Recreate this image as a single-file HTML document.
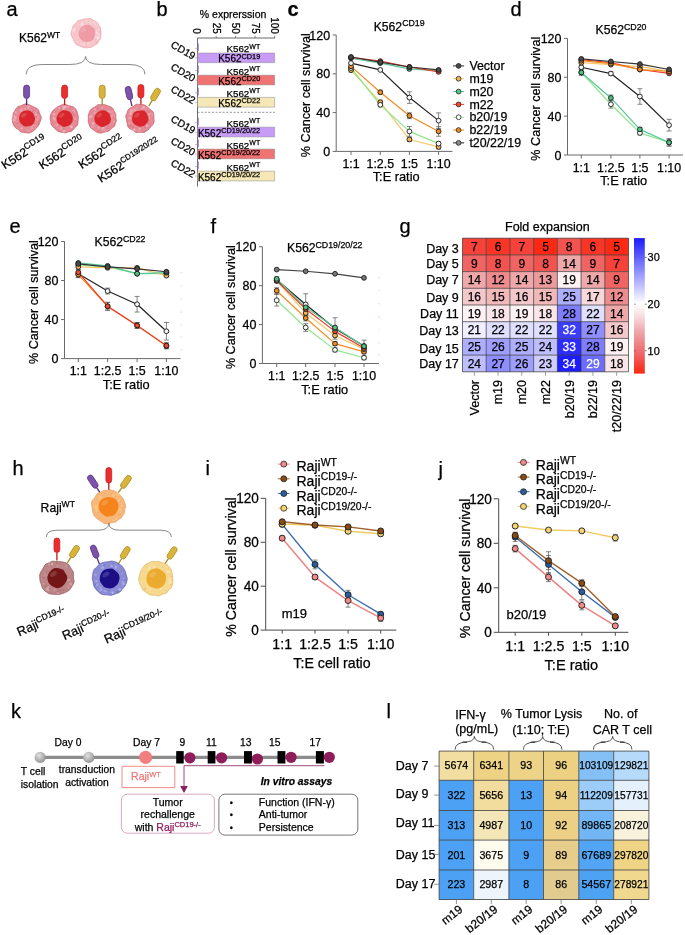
<!DOCTYPE html>
<html><head><meta charset="utf-8"><style>
html,body{margin:0;padding:0;background:#fff;}
body{width:685px;height:935px;overflow:hidden;}
svg{display:block;font-family:"Liberation Sans", sans-serif;filter:blur(0.35px);}
text{stroke-width:0.25px;}
</style></head><body>
<svg width="685" height="935" viewBox="0 0 685 935" stroke-linejoin="round">
<rect width="685" height="935" fill="#fff"/>
<text x="6.50" y="15.80" font-size="20" fill="#000" stroke="#000">a</text>
<text x="156.50" y="15.80" font-size="20" fill="#000" stroke="#000">b</text>
<text x="510.50" y="15.80" font-size="20" fill="#000" stroke="#000">d</text>
<text x="9.50" y="232.80" font-size="20" fill="#000" stroke="#000">e</text>
<text x="210.50" y="232.80" font-size="20" fill="#000" stroke="#000">f</text>
<text x="399.50" y="232.80" font-size="20" fill="#000" stroke="#000">g</text>
<text x="12.50" y="475.00" font-size="20" fill="#000" stroke="#000">h</text>
<text x="205.50" y="475.00" font-size="20" fill="#000" stroke="#000">i</text>
<text x="438.50" y="475.50" font-size="20" fill="#000" stroke="#000">j</text>
<text x="11.00" y="718.30" font-size="20" fill="#000" stroke="#000">k</text>
<text x="386.50" y="717.60" font-size="20" fill="#000" stroke="#000">l</text>
<text x="287.60" y="16.10" font-size="20" fill="#000" stroke="#000" font-weight="bold">c</text>
<text x="19.00" y="42.40" font-size="12" fill="#000" stroke="#000">K562<tspan font-size="8.5" dy="-4.50">WT</tspan></text>
<path d="M100.92,31.98 Q101.24,33.30 100.98,34.63 Q100.73,35.96 100.71,37.38 Q100.70,38.80 99.70,39.83 Q98.71,40.86 98.17,42.15 Q97.62,43.44 96.52,44.28 Q95.42,45.11 94.15,45.62 Q92.89,46.13 91.75,46.94 Q90.61,47.74 89.21,47.64 Q87.82,47.55 86.47,47.84 Q85.13,48.14 83.85,47.62 Q82.57,47.11 81.33,46.64 Q80.09,46.18 78.81,45.68 Q77.53,45.18 76.29,44.46 Q75.05,43.74 74.64,42.32 Q74.23,40.90 73.56,39.73 Q72.90,38.57 72.23,37.33 Q71.57,36.09 71.20,34.70 Q70.83,33.30 71.24,31.91 Q71.64,30.52 72.15,29.23 Q72.66,27.94 72.90,26.48 Q73.14,25.03 74.53,24.34 Q75.92,23.65 76.53,22.28 Q77.14,20.90 78.55,20.53 Q79.95,20.16 81.25,19.77 Q82.54,19.39 83.85,19.16 Q85.17,18.93 86.51,18.79 Q87.86,18.65 89.30,18.53 Q90.73,18.42 91.85,19.36 Q92.97,20.30 94.29,20.77 Q95.61,21.23 96.68,22.14 Q97.74,23.05 98.41,24.28 Q99.09,25.50 99.82,26.68 Q100.55,27.86 100.58,29.26 Q100.60,30.66 100.92,31.98Z" fill="#f6c6cb" stroke="#eaa0a8" stroke-width="0.7"/>
<circle cx="96.26" cy="37.13" r="1.38" fill="#fff" opacity="0.26"/>
<circle cx="81.82" cy="44.27" r="1.15" fill="#fff" opacity="0.22"/>
<circle cx="89.90" cy="21.42" r="0.94" fill="#fff" opacity="0.29"/>
<circle cx="73.64" cy="31.25" r="1.43" fill="#fff" opacity="0.22"/>
<circle cx="96.57" cy="32.04" r="1.12" fill="#fff" opacity="0.34"/>
<circle cx="93.18" cy="42.73" r="0.74" fill="#fff" opacity="0.32"/>
<circle cx="87.59" cy="21.47" r="1.58" fill="#fff" opacity="0.23"/>
<circle cx="82.47" cy="22.04" r="1.28" fill="#fff" opacity="0.26"/>
<circle cx="93.62" cy="22.08" r="1.17" fill="#fff" opacity="0.32"/>
<circle cx="97.98" cy="37.90" r="1.35" fill="#fff" opacity="0.40"/>
<circle cx="91.21" cy="23.60" r="1.09" fill="#fff" opacity="0.32"/>
<circle cx="97.84" cy="34.92" r="0.87" fill="#fff" opacity="0.18"/>
<circle cx="98.26" cy="37.87" r="0.83" fill="#fff" opacity="0.21"/>
<circle cx="76.43" cy="41.53" r="0.78" fill="#fff" opacity="0.26"/>
<circle cx="74.07" cy="29.31" r="1.52" fill="#fff" opacity="0.37"/>
<circle cx="84.50" cy="44.40" r="1.06" fill="#fff" opacity="0.37"/>
<circle cx="96.41" cy="30.60" r="0.88" fill="#fff" opacity="0.21"/>
<circle cx="87.71" cy="44.78" r="1.29" fill="#fff" opacity="0.22"/>
<circle cx="97.79" cy="33.59" r="1.07" fill="#fff" opacity="0.29"/>
<circle cx="98.29" cy="29.72" r="1.22" fill="#fff" opacity="0.30"/>
<circle cx="82.07" cy="24.44" r="1.60" fill="#fff" opacity="0.34"/>
<circle cx="95.48" cy="24.27" r="1.09" fill="#fff" opacity="0.25"/>
<circle cx="96.14" cy="40.63" r="0.76" fill="#fff" opacity="0.17"/>
<circle cx="89.14" cy="43.27" r="1.04" fill="#fff" opacity="0.16"/>
<circle cx="96.77" cy="33.32" r="0.80" fill="#fff" opacity="0.24"/>
<circle cx="99.36" cy="35.38" r="1.31" fill="#fff" opacity="0.19"/>
<circle cx="86.34" cy="44.69" r="0.82" fill="#eaa0a8" opacity="0.35"/>
<circle cx="96.10" cy="42.64" r="1.20" fill="#eaa0a8" opacity="0.35"/>
<circle cx="74.84" cy="35.83" r="0.65" fill="#eaa0a8" opacity="0.35"/>
<circle cx="95.61" cy="40.11" r="0.76" fill="#eaa0a8" opacity="0.35"/>
<circle cx="91.56" cy="23.93" r="0.61" fill="#eaa0a8" opacity="0.35"/>
<circle cx="98.04" cy="29.63" r="0.69" fill="#eaa0a8" opacity="0.35"/>
<circle cx="76.76" cy="30.59" r="0.92" fill="#eaa0a8" opacity="0.35"/>
<circle cx="99.83" cy="31.49" r="1.02" fill="#eaa0a8" opacity="0.35"/>
<circle cx="85.70" cy="44.74" r="0.70" fill="#eaa0a8" opacity="0.35"/>
<circle cx="88.17" cy="21.28" r="1.07" fill="#eaa0a8" opacity="0.35"/>
<path d="M95.22,31.92 Q95.16,33.30 94.91,34.58 Q94.66,35.85 94.28,37.15 Q93.89,38.45 92.96,39.48 Q92.04,40.51 90.78,41.09 Q89.52,41.67 88.16,41.86 Q86.80,42.06 85.44,41.85 Q84.09,41.64 82.89,40.99 Q81.68,40.34 80.90,39.25 Q80.11,38.16 79.41,37.05 Q78.70,35.93 78.56,34.62 Q78.42,33.30 78.76,32.05 Q79.10,30.80 79.67,29.67 Q80.25,28.54 81.08,27.56 Q81.91,26.58 83.08,25.99 Q84.24,25.41 85.52,25.02 Q86.80,24.64 88.17,24.74 Q89.55,24.85 90.66,25.65 Q91.77,26.46 92.87,27.27 Q93.98,28.09 94.63,29.32 Q95.28,30.55 95.22,31.92Z" fill="#ef9aa4"/>
<ellipse cx="83.53" cy="29.90" rx="3.23" ry="1.87" fill="#fff" opacity="0.15" transform="rotate(-35 83.53 29.90)"/>
<path d="M26.20,74.50 Q26.20,64.50 42.20,64.50 L69.60,64.50 Q85.60,64.50 85.60,56.40 Q85.60,64.50 101.60,64.50 L129.00,64.50 Q145.00,64.50 145.00,74.50" stroke="#888" stroke-width="1" fill="none" />
<path d="M41.23,117.15 Q41.45,118.50 40.91,119.79 Q40.37,121.07 39.92,122.28 Q39.47,123.49 38.91,124.63 Q38.34,125.77 37.56,126.77 Q36.78,127.78 35.84,128.64 Q34.90,129.50 33.96,130.43 Q33.01,131.37 31.82,132.04 Q30.64,132.70 29.30,132.91 Q27.95,133.12 26.62,132.87 Q25.29,132.61 23.97,132.49 Q22.65,132.37 21.37,131.98 Q20.08,131.59 19.24,130.48 Q18.40,129.36 17.17,128.79 Q15.94,128.22 14.98,127.25 Q14.03,126.28 13.51,125.03 Q12.99,123.77 12.64,122.47 Q12.29,121.17 12.36,119.84 Q12.43,118.50 12.76,117.24 Q13.09,115.97 13.03,114.60 Q12.98,113.22 13.85,112.19 Q14.73,111.15 15.26,109.90 Q15.79,108.65 16.71,107.64 Q17.64,106.63 18.99,106.28 Q20.34,105.92 21.54,105.45 Q22.75,104.98 23.99,104.35 Q25.23,103.73 26.59,103.89 Q27.94,104.04 29.15,104.67 Q30.36,105.29 31.53,105.78 Q32.69,106.26 33.78,106.91 Q34.86,107.56 36.19,108.05 Q37.52,108.55 38.28,109.67 Q39.04,110.80 39.21,112.17 Q39.37,113.55 40.19,114.68 Q41.01,115.81 41.23,117.15Z" fill="#e48a94" stroke="#c85866" stroke-width="0.7"/>
<circle cx="38.11" cy="117.07" r="1.05" fill="#fbe0e4" opacity="0.29"/>
<circle cx="33.09" cy="125.50" r="1.67" fill="#fbe0e4" opacity="0.31"/>
<circle cx="14.29" cy="116.42" r="1.13" fill="#fbe0e4" opacity="0.37"/>
<circle cx="31.29" cy="109.47" r="0.95" fill="#fbe0e4" opacity="0.22"/>
<circle cx="27.28" cy="129.86" r="0.96" fill="#fbe0e4" opacity="0.25"/>
<circle cx="35.04" cy="127.61" r="1.05" fill="#fbe0e4" opacity="0.26"/>
<circle cx="15.87" cy="112.30" r="1.12" fill="#fbe0e4" opacity="0.38"/>
<circle cx="15.40" cy="118.38" r="1.22" fill="#fbe0e4" opacity="0.15"/>
<circle cx="17.22" cy="122.21" r="0.70" fill="#fbe0e4" opacity="0.35"/>
<circle cx="31.76" cy="128.23" r="1.43" fill="#fbe0e4" opacity="0.29"/>
<circle cx="21.47" cy="128.41" r="1.26" fill="#fbe0e4" opacity="0.35"/>
<circle cx="35.47" cy="125.48" r="0.95" fill="#fbe0e4" opacity="0.22"/>
<circle cx="28.15" cy="107.48" r="1.26" fill="#fbe0e4" opacity="0.34"/>
<circle cx="35.91" cy="112.79" r="1.31" fill="#fbe0e4" opacity="0.28"/>
<circle cx="14.92" cy="117.61" r="1.15" fill="#fbe0e4" opacity="0.28"/>
<circle cx="14.21" cy="120.22" r="1.40" fill="#fbe0e4" opacity="0.37"/>
<circle cx="36.26" cy="114.83" r="1.26" fill="#fbe0e4" opacity="0.39"/>
<circle cx="31.93" cy="110.11" r="0.82" fill="#fbe0e4" opacity="0.26"/>
<circle cx="35.82" cy="123.02" r="0.77" fill="#fbe0e4" opacity="0.32"/>
<circle cx="29.22" cy="106.41" r="0.85" fill="#fbe0e4" opacity="0.33"/>
<circle cx="21.28" cy="110.08" r="1.58" fill="#fbe0e4" opacity="0.39"/>
<circle cx="28.98" cy="130.82" r="1.10" fill="#fbe0e4" opacity="0.27"/>
<circle cx="38.74" cy="117.73" r="0.86" fill="#fbe0e4" opacity="0.26"/>
<circle cx="16.07" cy="117.46" r="0.90" fill="#fbe0e4" opacity="0.23"/>
<circle cx="24.94" cy="109.08" r="1.25" fill="#fbe0e4" opacity="0.26"/>
<circle cx="37.09" cy="119.70" r="1.32" fill="#fbe0e4" opacity="0.28"/>
<circle cx="38.69" cy="123.67" r="1.07" fill="#c85866" opacity="0.35"/>
<circle cx="36.60" cy="116.70" r="0.76" fill="#c85866" opacity="0.35"/>
<circle cx="38.67" cy="121.56" r="0.76" fill="#c85866" opacity="0.35"/>
<circle cx="34.31" cy="126.67" r="1.15" fill="#c85866" opacity="0.35"/>
<circle cx="31.08" cy="108.81" r="0.69" fill="#c85866" opacity="0.35"/>
<circle cx="36.86" cy="112.79" r="1.02" fill="#c85866" opacity="0.35"/>
<circle cx="35.06" cy="123.83" r="1.01" fill="#c85866" opacity="0.35"/>
<circle cx="17.64" cy="123.04" r="1.16" fill="#c85866" opacity="0.35"/>
<circle cx="18.28" cy="109.13" r="0.65" fill="#c85866" opacity="0.35"/>
<circle cx="32.81" cy="110.63" r="1.12" fill="#c85866" opacity="0.35"/>
<path d="M34.79,117.28 Q35.16,118.50 34.91,119.76 Q34.67,121.02 34.16,122.21 Q33.65,123.40 32.82,124.45 Q31.99,125.50 30.70,125.86 Q29.41,126.21 28.15,126.35 Q26.90,126.49 25.61,126.45 Q24.33,126.42 23.24,125.73 Q22.15,125.04 21.30,124.11 Q20.45,123.19 19.86,122.08 Q19.27,120.98 19.12,119.74 Q18.97,118.50 19.11,117.26 Q19.24,116.01 19.78,114.86 Q20.31,113.71 21.21,112.81 Q22.12,111.92 23.19,111.16 Q24.27,110.40 25.58,110.39 Q26.90,110.37 28.18,110.49 Q29.46,110.61 30.54,111.30 Q31.62,112.00 32.57,112.85 Q33.51,113.70 33.96,114.88 Q34.41,116.06 34.79,117.28Z" fill="#d8262c"/>
<ellipse cx="23.70" cy="115.18" rx="3.15" ry="1.83" fill="#fff" opacity="0.15" transform="rotate(-35 23.70 115.18)"/>
<path d="M78.32,117.23 Q78.45,118.50 78.16,119.74 Q77.88,120.98 78.02,122.37 Q78.15,123.75 77.44,124.88 Q76.73,126.01 75.75,126.89 Q74.77,127.77 73.95,128.79 Q73.14,129.80 72.17,130.78 Q71.20,131.76 69.77,131.69 Q68.33,131.62 67.14,132.36 Q65.95,133.09 64.63,132.82 Q63.30,132.54 62.01,132.35 Q60.72,132.15 59.39,131.89 Q58.06,131.64 57.10,130.67 Q56.13,129.71 55.12,128.89 Q54.10,128.07 53.20,127.09 Q52.30,126.12 51.51,125.00 Q50.72,123.88 50.79,122.47 Q50.86,121.07 50.39,119.78 Q49.93,118.50 50.14,117.17 Q50.35,115.84 50.77,114.57 Q51.18,113.30 51.91,112.20 Q52.64,111.10 53.45,110.09 Q54.27,109.08 55.34,108.38 Q56.42,107.67 57.46,106.97 Q58.50,106.26 59.69,105.84 Q60.88,105.43 62.07,104.72 Q63.26,104.02 64.57,104.36 Q65.88,104.71 67.12,105.00 Q68.36,105.30 69.51,105.81 Q70.67,106.32 72.06,106.55 Q73.45,106.78 74.47,107.68 Q75.48,108.58 76.18,109.74 Q76.88,110.90 77.22,112.19 Q77.55,113.48 77.88,114.72 Q78.20,115.96 78.32,117.23Z" fill="#e48a94" stroke="#c85866" stroke-width="0.7"/>
<circle cx="61.67" cy="129.07" r="0.86" fill="#fbe0e4" opacity="0.26"/>
<circle cx="63.55" cy="131.03" r="1.67" fill="#fbe0e4" opacity="0.29"/>
<circle cx="65.04" cy="131.08" r="1.01" fill="#fbe0e4" opacity="0.24"/>
<circle cx="75.32" cy="118.57" r="1.17" fill="#fbe0e4" opacity="0.28"/>
<circle cx="67.97" cy="129.09" r="0.70" fill="#fbe0e4" opacity="0.22"/>
<circle cx="73.71" cy="124.26" r="0.74" fill="#fbe0e4" opacity="0.16"/>
<circle cx="61.18" cy="128.16" r="1.29" fill="#fbe0e4" opacity="0.28"/>
<circle cx="64.64" cy="106.90" r="1.42" fill="#fbe0e4" opacity="0.37"/>
<circle cx="56.50" cy="125.25" r="1.68" fill="#fbe0e4" opacity="0.19"/>
<circle cx="62.73" cy="107.09" r="0.74" fill="#fbe0e4" opacity="0.36"/>
<circle cx="73.56" cy="111.27" r="1.43" fill="#fbe0e4" opacity="0.35"/>
<circle cx="71.76" cy="127.08" r="1.20" fill="#fbe0e4" opacity="0.36"/>
<circle cx="68.69" cy="107.07" r="1.28" fill="#fbe0e4" opacity="0.37"/>
<circle cx="59.80" cy="107.81" r="0.93" fill="#fbe0e4" opacity="0.16"/>
<circle cx="71.74" cy="126.41" r="0.80" fill="#fbe0e4" opacity="0.36"/>
<circle cx="53.86" cy="114.36" r="1.33" fill="#fbe0e4" opacity="0.32"/>
<circle cx="55.11" cy="119.14" r="1.50" fill="#fbe0e4" opacity="0.34"/>
<circle cx="53.39" cy="118.29" r="1.36" fill="#fbe0e4" opacity="0.17"/>
<circle cx="63.75" cy="108.23" r="0.77" fill="#fbe0e4" opacity="0.22"/>
<circle cx="63.28" cy="108.43" r="1.44" fill="#fbe0e4" opacity="0.39"/>
<circle cx="53.88" cy="118.91" r="1.18" fill="#fbe0e4" opacity="0.32"/>
<circle cx="65.82" cy="107.09" r="1.34" fill="#fbe0e4" opacity="0.17"/>
<circle cx="70.80" cy="126.74" r="1.44" fill="#fbe0e4" opacity="0.23"/>
<circle cx="55.91" cy="114.56" r="0.76" fill="#fbe0e4" opacity="0.22"/>
<circle cx="59.09" cy="108.16" r="1.38" fill="#fbe0e4" opacity="0.22"/>
<circle cx="53.67" cy="117.36" r="1.17" fill="#fbe0e4" opacity="0.18"/>
<circle cx="72.82" cy="112.01" r="1.19" fill="#c85866" opacity="0.35"/>
<circle cx="73.68" cy="114.66" r="0.88" fill="#c85866" opacity="0.35"/>
<circle cx="70.17" cy="106.65" r="0.87" fill="#c85866" opacity="0.35"/>
<circle cx="63.37" cy="128.94" r="1.17" fill="#c85866" opacity="0.35"/>
<circle cx="67.48" cy="129.92" r="0.69" fill="#c85866" opacity="0.35"/>
<circle cx="51.71" cy="116.54" r="0.68" fill="#c85866" opacity="0.35"/>
<circle cx="69.52" cy="108.07" r="1.13" fill="#c85866" opacity="0.35"/>
<circle cx="61.54" cy="108.37" r="1.14" fill="#c85866" opacity="0.35"/>
<circle cx="54.75" cy="119.36" r="0.60" fill="#c85866" opacity="0.35"/>
<circle cx="53.28" cy="119.09" r="0.78" fill="#c85866" opacity="0.35"/>
<path d="M72.67,117.28 Q72.90,118.50 72.79,119.76 Q72.67,121.02 72.08,122.16 Q71.49,123.29 70.72,124.37 Q69.94,125.44 68.64,125.72 Q67.34,126.00 66.12,126.50 Q64.90,127.01 63.57,126.83 Q62.25,126.66 61.23,125.81 Q60.21,124.96 59.05,124.27 Q57.90,123.59 57.37,122.35 Q56.84,121.12 56.55,119.81 Q56.27,118.50 56.72,117.24 Q57.17,115.99 57.72,114.84 Q58.27,113.68 59.17,112.77 Q60.07,111.86 61.14,111.03 Q62.21,110.21 63.55,110.17 Q64.90,110.13 66.16,110.42 Q67.43,110.72 68.59,111.27 Q69.74,111.83 70.60,112.78 Q71.46,113.73 71.95,114.89 Q72.44,116.05 72.67,117.28Z" fill="#d8262c"/>
<ellipse cx="61.69" cy="115.18" rx="3.15" ry="1.83" fill="#fff" opacity="0.15" transform="rotate(-35 61.69 115.18)"/>
<path d="M115.86,117.22 Q115.83,118.50 116.23,119.85 Q116.63,121.20 115.89,122.36 Q115.16,123.52 114.98,124.91 Q114.80,126.30 113.61,127.06 Q112.43,127.83 111.49,128.70 Q110.56,129.57 109.55,130.40 Q108.54,131.23 107.25,131.48 Q105.97,131.73 104.73,132.10 Q103.49,132.46 102.16,132.87 Q100.83,133.28 99.50,132.98 Q98.16,132.68 96.92,132.15 Q95.67,131.61 94.60,130.79 Q93.53,129.98 92.40,129.22 Q91.27,128.46 90.43,127.38 Q89.59,126.30 89.24,124.98 Q88.89,123.65 88.41,122.41 Q87.94,121.17 88.29,119.83 Q88.64,118.50 88.28,117.17 Q87.92,115.83 88.47,114.61 Q89.02,113.40 89.42,112.12 Q89.82,110.84 90.69,109.82 Q91.55,108.80 92.69,108.10 Q93.83,107.41 94.99,106.89 Q96.16,106.36 97.15,105.31 Q98.15,104.26 99.54,104.57 Q100.94,104.89 102.22,104.64 Q103.51,104.40 104.77,104.73 Q106.03,105.06 107.21,105.55 Q108.40,106.05 109.68,106.47 Q110.96,106.90 112.08,107.69 Q113.19,108.48 113.59,109.84 Q113.98,111.20 114.82,112.25 Q115.65,113.29 115.76,114.62 Q115.88,115.94 115.86,117.22Z" fill="#e48a94" stroke="#c85866" stroke-width="0.7"/>
<circle cx="92.13" cy="114.71" r="0.87" fill="#fbe0e4" opacity="0.19"/>
<circle cx="105.44" cy="130.47" r="1.20" fill="#fbe0e4" opacity="0.21"/>
<circle cx="112.75" cy="111.45" r="1.15" fill="#fbe0e4" opacity="0.18"/>
<circle cx="105.67" cy="127.66" r="1.04" fill="#fbe0e4" opacity="0.17"/>
<circle cx="102.90" cy="128.80" r="1.27" fill="#fbe0e4" opacity="0.37"/>
<circle cx="102.18" cy="107.68" r="1.11" fill="#fbe0e4" opacity="0.28"/>
<circle cx="94.63" cy="125.89" r="0.76" fill="#fbe0e4" opacity="0.22"/>
<circle cx="111.90" cy="116.50" r="1.20" fill="#fbe0e4" opacity="0.31"/>
<circle cx="108.84" cy="110.77" r="0.97" fill="#fbe0e4" opacity="0.21"/>
<circle cx="93.37" cy="124.94" r="1.65" fill="#fbe0e4" opacity="0.36"/>
<circle cx="108.88" cy="111.64" r="0.73" fill="#fbe0e4" opacity="0.33"/>
<circle cx="110.93" cy="111.79" r="1.29" fill="#fbe0e4" opacity="0.15"/>
<circle cx="92.52" cy="126.35" r="1.53" fill="#fbe0e4" opacity="0.36"/>
<circle cx="112.34" cy="116.71" r="0.81" fill="#fbe0e4" opacity="0.19"/>
<circle cx="90.63" cy="116.86" r="1.64" fill="#fbe0e4" opacity="0.33"/>
<circle cx="95.02" cy="108.95" r="1.16" fill="#fbe0e4" opacity="0.29"/>
<circle cx="113.83" cy="121.45" r="0.93" fill="#fbe0e4" opacity="0.38"/>
<circle cx="95.81" cy="110.21" r="0.83" fill="#fbe0e4" opacity="0.21"/>
<circle cx="94.51" cy="109.63" r="0.81" fill="#fbe0e4" opacity="0.17"/>
<circle cx="90.97" cy="116.76" r="1.09" fill="#fbe0e4" opacity="0.21"/>
<circle cx="94.52" cy="112.85" r="1.00" fill="#fbe0e4" opacity="0.27"/>
<circle cx="113.38" cy="115.55" r="1.58" fill="#fbe0e4" opacity="0.27"/>
<circle cx="103.18" cy="128.74" r="1.66" fill="#fbe0e4" opacity="0.33"/>
<circle cx="98.82" cy="127.45" r="1.20" fill="#fbe0e4" opacity="0.32"/>
<circle cx="93.15" cy="123.47" r="1.37" fill="#fbe0e4" opacity="0.38"/>
<circle cx="103.60" cy="128.01" r="1.04" fill="#fbe0e4" opacity="0.26"/>
<circle cx="97.89" cy="108.95" r="1.08" fill="#c85866" opacity="0.35"/>
<circle cx="101.41" cy="107.01" r="0.72" fill="#c85866" opacity="0.35"/>
<circle cx="112.87" cy="116.46" r="1.09" fill="#c85866" opacity="0.35"/>
<circle cx="103.47" cy="128.98" r="1.06" fill="#c85866" opacity="0.35"/>
<circle cx="98.57" cy="131.02" r="0.90" fill="#c85866" opacity="0.35"/>
<circle cx="106.25" cy="128.25" r="0.85" fill="#c85866" opacity="0.35"/>
<circle cx="95.59" cy="107.28" r="0.69" fill="#c85866" opacity="0.35"/>
<circle cx="93.95" cy="125.03" r="1.18" fill="#c85866" opacity="0.35"/>
<circle cx="108.47" cy="126.26" r="0.64" fill="#c85866" opacity="0.35"/>
<circle cx="92.13" cy="126.48" r="1.13" fill="#c85866" opacity="0.35"/>
<path d="M110.58,117.26 Q110.99,118.50 110.89,119.85 Q110.79,121.19 110.15,122.39 Q109.50,123.59 108.40,124.34 Q107.30,125.10 106.14,125.62 Q104.98,126.15 103.74,126.65 Q102.50,127.16 101.19,126.87 Q99.87,126.59 98.86,125.74 Q97.85,124.90 96.76,124.18 Q95.67,123.46 95.19,122.25 Q94.70,121.03 94.50,119.77 Q94.30,118.50 94.52,117.24 Q94.74,115.98 95.37,114.88 Q96.01,113.78 96.94,112.95 Q97.86,112.12 98.93,111.45 Q99.99,110.78 101.25,110.55 Q102.50,110.32 103.84,110.28 Q105.18,110.25 106.19,111.14 Q107.20,112.04 108.36,112.72 Q109.53,113.39 109.84,114.70 Q110.16,116.01 110.58,117.26Z" fill="#d8262c"/>
<ellipse cx="99.30" cy="115.18" rx="3.15" ry="1.83" fill="#fff" opacity="0.15" transform="rotate(-35 99.30 115.18)"/>
<path d="M153.97,117.18 Q153.90,118.50 154.10,119.85 Q154.31,121.19 153.94,122.49 Q153.57,123.79 152.73,124.86 Q151.89,125.92 150.91,126.78 Q149.92,127.64 149.18,128.72 Q148.43,129.80 147.29,130.43 Q146.15,131.05 145.05,131.89 Q143.95,132.73 142.56,132.47 Q141.17,132.21 139.89,132.33 Q138.61,132.45 137.23,132.57 Q135.86,132.70 134.86,131.66 Q133.87,130.61 132.64,130.17 Q131.42,129.73 130.25,129.05 Q129.08,128.36 128.29,127.27 Q127.50,126.17 127.39,124.78 Q127.27,123.39 126.93,122.19 Q126.59,120.99 126.46,119.74 Q126.32,118.50 125.84,117.14 Q125.36,115.78 126.17,114.64 Q126.98,113.50 127.25,112.17 Q127.53,110.84 128.26,109.70 Q128.99,108.55 130.23,107.95 Q131.48,107.35 132.60,106.71 Q133.71,106.08 134.78,105.15 Q135.84,104.22 137.21,104.21 Q138.57,104.20 139.88,104.45 Q141.18,104.70 142.52,104.62 Q143.87,104.55 144.99,105.28 Q146.11,106.02 147.19,106.72 Q148.27,107.42 149.07,108.42 Q149.87,109.41 151.08,110.12 Q152.28,110.83 152.99,112.00 Q153.69,113.16 153.87,114.51 Q154.05,115.86 153.97,117.18Z" fill="#e48a94" stroke="#c85866" stroke-width="0.7"/>
<circle cx="148.88" cy="115.16" r="0.93" fill="#fbe0e4" opacity="0.27"/>
<circle cx="151.99" cy="115.13" r="1.09" fill="#fbe0e4" opacity="0.21"/>
<circle cx="129.88" cy="123.22" r="1.63" fill="#fbe0e4" opacity="0.20"/>
<circle cx="143.75" cy="107.28" r="1.52" fill="#fbe0e4" opacity="0.34"/>
<circle cx="131.66" cy="111.92" r="1.02" fill="#fbe0e4" opacity="0.24"/>
<circle cx="141.86" cy="108.95" r="0.90" fill="#fbe0e4" opacity="0.34"/>
<circle cx="140.06" cy="128.21" r="0.73" fill="#fbe0e4" opacity="0.29"/>
<circle cx="134.11" cy="129.73" r="1.58" fill="#fbe0e4" opacity="0.40"/>
<circle cx="138.99" cy="128.23" r="0.80" fill="#fbe0e4" opacity="0.27"/>
<circle cx="137.17" cy="107.92" r="0.93" fill="#fbe0e4" opacity="0.25"/>
<circle cx="131.42" cy="110.50" r="1.45" fill="#fbe0e4" opacity="0.36"/>
<circle cx="134.84" cy="110.01" r="1.54" fill="#fbe0e4" opacity="0.22"/>
<circle cx="130.14" cy="114.14" r="1.44" fill="#fbe0e4" opacity="0.20"/>
<circle cx="140.07" cy="128.78" r="0.85" fill="#fbe0e4" opacity="0.37"/>
<circle cx="130.61" cy="113.52" r="1.10" fill="#fbe0e4" opacity="0.40"/>
<circle cx="129.67" cy="118.03" r="1.51" fill="#fbe0e4" opacity="0.31"/>
<circle cx="149.71" cy="117.94" r="1.17" fill="#fbe0e4" opacity="0.35"/>
<circle cx="146.59" cy="108.03" r="0.74" fill="#fbe0e4" opacity="0.22"/>
<circle cx="147.30" cy="125.38" r="1.67" fill="#fbe0e4" opacity="0.30"/>
<circle cx="149.58" cy="113.96" r="1.57" fill="#fbe0e4" opacity="0.26"/>
<circle cx="139.15" cy="130.47" r="1.65" fill="#fbe0e4" opacity="0.18"/>
<circle cx="130.45" cy="111.98" r="0.92" fill="#fbe0e4" opacity="0.24"/>
<circle cx="146.30" cy="126.38" r="0.95" fill="#fbe0e4" opacity="0.30"/>
<circle cx="134.02" cy="110.23" r="0.71" fill="#fbe0e4" opacity="0.23"/>
<circle cx="135.51" cy="109.41" r="1.01" fill="#fbe0e4" opacity="0.20"/>
<circle cx="143.06" cy="107.70" r="0.76" fill="#fbe0e4" opacity="0.18"/>
<circle cx="130.67" cy="125.64" r="0.98" fill="#c85866" opacity="0.35"/>
<circle cx="148.60" cy="124.11" r="1.02" fill="#c85866" opacity="0.35"/>
<circle cx="130.82" cy="124.28" r="0.78" fill="#c85866" opacity="0.35"/>
<circle cx="150.30" cy="115.35" r="0.94" fill="#c85866" opacity="0.35"/>
<circle cx="132.90" cy="127.27" r="1.12" fill="#c85866" opacity="0.35"/>
<circle cx="150.93" cy="118.27" r="0.72" fill="#c85866" opacity="0.35"/>
<circle cx="138.46" cy="108.11" r="0.60" fill="#c85866" opacity="0.35"/>
<circle cx="149.06" cy="111.99" r="1.09" fill="#c85866" opacity="0.35"/>
<circle cx="129.26" cy="125.61" r="0.88" fill="#c85866" opacity="0.35"/>
<circle cx="145.04" cy="126.90" r="0.93" fill="#c85866" opacity="0.35"/>
<path d="M148.18,117.27 Q148.62,118.50 148.52,119.83 Q148.42,121.17 147.53,122.17 Q146.64,123.18 145.89,124.24 Q145.14,125.30 143.93,125.79 Q142.73,126.29 141.47,126.55 Q140.20,126.80 138.96,126.46 Q137.73,126.11 136.58,125.59 Q135.43,125.07 134.45,124.23 Q133.47,123.39 132.72,122.28 Q131.97,121.17 132.10,119.84 Q132.22,118.50 132.27,117.22 Q132.31,115.94 132.80,114.71 Q133.28,113.47 134.19,112.47 Q135.09,111.47 136.40,111.16 Q137.71,110.85 138.96,110.68 Q140.20,110.51 141.54,110.38 Q142.88,110.26 144.09,110.86 Q145.31,111.47 146.11,112.55 Q146.90,113.63 147.32,114.84 Q147.74,116.05 148.18,117.27Z" fill="#d8262c"/>
<ellipse cx="137.00" cy="115.18" rx="3.15" ry="1.83" fill="#fff" opacity="0.15" transform="rotate(-35 137.00 115.18)"/>
<line x1="26.60" y1="105.00" x2="26.60" y2="98.50" stroke="#4f2f80" stroke-width="1.3" />
<rect x="19.85" y="88.75" width="13.50" height="6.00" rx="3.00" fill="#7d52ad" stroke="#4f2f80" stroke-width="0.7" transform="rotate(-90.0 26.60 91.75)"/>
<line x1="64.60" y1="105.00" x2="64.60" y2="98.50" stroke="#c01818" stroke-width="1.3" />
<rect x="57.85" y="88.75" width="13.50" height="6.00" rx="3.00" fill="#ec2d2d" stroke="#c01818" stroke-width="0.7" transform="rotate(-90.0 64.60 91.75)"/>
<line x1="102.20" y1="105.00" x2="102.20" y2="98.50" stroke="#a88a20" stroke-width="1.3" />
<rect x="95.45" y="88.75" width="13.50" height="6.00" rx="3.00" fill="#d9b43a" stroke="#a88a20" stroke-width="0.7" transform="rotate(-90.0 102.20 91.75)"/>
<line x1="131.90" y1="106.00" x2="130.46" y2="99.66" stroke="#4f2f80" stroke-width="1.3" />
<rect x="122.21" y="90.08" width="13.50" height="6.00" rx="3.00" fill="#7d52ad" stroke="#4f2f80" stroke-width="0.7" transform="rotate(-102.8 128.96 93.08)"/>
<line x1="140.90" y1="104.50" x2="140.90" y2="98.00" stroke="#c01818" stroke-width="1.3" />
<rect x="134.15" y="88.25" width="13.50" height="6.00" rx="3.00" fill="#ec2d2d" stroke="#c01818" stroke-width="0.7" transform="rotate(-90.0 140.90 91.25)"/>
<line x1="148.90" y1="106.00" x2="152.16" y2="100.37" stroke="#a88a20" stroke-width="1.3" />
<rect x="148.79" y="91.53" width="13.50" height="6.00" rx="3.00" fill="#d9b43a" stroke="#a88a20" stroke-width="0.7" transform="rotate(-59.9 155.54 94.53)"/>
<text x="4.80" y="169.50" font-size="12.2" fill="#000" stroke="#000" transform="rotate(-32.5 4.80 169.50)">K562<tspan font-size="8.8" dy="-5.00">CD19</tspan></text>
<text x="42.30" y="169.70" font-size="12.2" fill="#000" stroke="#000" transform="rotate(-32.5 42.30 169.70)">K562<tspan font-size="8.8" dy="-5.00">CD20</tspan></text>
<text x="81.80" y="169.20" font-size="12.2" fill="#000" stroke="#000" transform="rotate(-32.5 81.80 169.20)">K562<tspan font-size="8.8" dy="-5.00">CD22</tspan></text>
<text x="100.90" y="183.00" font-size="12.2" fill="#000" stroke="#000" transform="rotate(-32.5 100.90 183.00)">K562<tspan font-size="8.0" dy="-5.00">CD19/20/22</tspan></text>
<text x="199.80" y="17.80" font-size="10.5" fill="#000" stroke="#000">% exprerssion</text>
<line x1="197.50" y1="38.00" x2="275.10" y2="38.00" stroke="#6a6a6a" stroke-width="1" />
<line x1="197.50" y1="38.00" x2="197.50" y2="186.50" stroke="#6a6a6a" stroke-width="1" />
<text x="193.20" y="33.90" font-size="10" text-anchor="end" fill="#000" stroke="#000" transform="rotate(90 193.20 33.90)">0</text>
<line x1="216.17" y1="35.80" x2="216.17" y2="38.00" stroke="#6a6a6a" stroke-width="0.8" />
<text x="212.67" y="33.90" font-size="10" text-anchor="end" fill="#000" stroke="#000" transform="rotate(90 212.67 33.90)">25</text>
<line x1="235.65" y1="35.80" x2="235.65" y2="38.00" stroke="#6a6a6a" stroke-width="0.8" />
<text x="232.15" y="33.90" font-size="10" text-anchor="end" fill="#000" stroke="#000" transform="rotate(90 232.15 33.90)">50</text>
<line x1="255.12" y1="35.80" x2="255.12" y2="38.00" stroke="#6a6a6a" stroke-width="0.8" />
<text x="251.62" y="33.90" font-size="10" text-anchor="end" fill="#000" stroke="#000" transform="rotate(90 251.62 33.90)">75</text>
<line x1="274.60" y1="35.80" x2="274.60" y2="38.00" stroke="#6a6a6a" stroke-width="0.8" />
<text x="271.10" y="33.90" font-size="10" text-anchor="end" fill="#000" stroke="#000" transform="rotate(90 271.10 33.90)">100</text>
<rect x="197.50" y="53.00" width="77.10" height="9.70" fill="#c79cf7" stroke="#888" stroke-width="0.5" />
<rect x="197.50" y="43.50" width="1.20" height="7.50" fill="#8a6ab5" />
<line x1="195.00" y1="48.40" x2="197.50" y2="48.40" stroke="#999" stroke-width="0.6" />
<line x1="195.00" y1="57.90" x2="197.50" y2="57.90" stroke="#999" stroke-width="0.6" />
<text x="260.20" y="52.40" font-size="9.8" text-anchor="end" fill="#000" stroke="#000">K562<tspan font-size="7" dy="-3.40">WT</tspan></text>
<text x="260.2" y="62.40" font-size="10" text-anchor="end" fill="#000" stroke="#000">K562<tspan font-size="7.3" dy="-3.4">CD19</tspan></text>
<text x="170.00" y="46.80" font-size="10.3" fill="#000" stroke="#000" transform="rotate(30 170.00 46.80)">CD19</text>
<rect x="197.50" y="75.20" width="77.10" height="9.70" fill="#ef7373" stroke="#888" stroke-width="0.5" />
<rect x="197.50" y="65.70" width="1.20" height="7.50" fill="#8a6ab5" />
<line x1="195.00" y1="70.60" x2="197.50" y2="70.60" stroke="#999" stroke-width="0.6" />
<line x1="195.00" y1="80.10" x2="197.50" y2="80.10" stroke="#999" stroke-width="0.6" />
<text x="260.20" y="74.60" font-size="9.8" text-anchor="end" fill="#000" stroke="#000">K562<tspan font-size="7" dy="-3.40">WT</tspan></text>
<text x="260.2" y="84.60" font-size="10" text-anchor="end" fill="#000" stroke="#000">K562<tspan font-size="7.3" dy="-3.4">CD20</tspan></text>
<text x="170.00" y="69.00" font-size="10.3" fill="#000" stroke="#000" transform="rotate(30 170.00 69.00)">CD20</text>
<rect x="197.50" y="97.40" width="77.10" height="9.70" fill="#f5e8b6" stroke="#888" stroke-width="0.5" />
<rect x="197.50" y="87.90" width="1.20" height="7.50" fill="#8a6ab5" />
<line x1="195.00" y1="92.80" x2="197.50" y2="92.80" stroke="#999" stroke-width="0.6" />
<line x1="195.00" y1="102.30" x2="197.50" y2="102.30" stroke="#999" stroke-width="0.6" />
<text x="260.20" y="96.80" font-size="9.8" text-anchor="end" fill="#000" stroke="#000">K562<tspan font-size="7" dy="-3.40">WT</tspan></text>
<text x="260.2" y="106.80" font-size="10" text-anchor="end" fill="#000" stroke="#000">K562<tspan font-size="7.3" dy="-3.4">CD22</tspan></text>
<text x="170.00" y="91.20" font-size="10.3" fill="#000" stroke="#000" transform="rotate(30 170.00 91.20)">CD22</text>
<rect x="197.50" y="127.20" width="77.10" height="9.70" fill="#c79cf7" stroke="#888" stroke-width="0.5" />
<rect x="197.50" y="117.70" width="1.20" height="7.50" fill="#8a6ab5" />
<line x1="195.00" y1="122.60" x2="197.50" y2="122.60" stroke="#999" stroke-width="0.6" />
<line x1="195.00" y1="132.10" x2="197.50" y2="132.10" stroke="#999" stroke-width="0.6" />
<text x="260.20" y="126.60" font-size="9.8" text-anchor="end" fill="#000" stroke="#000">K562<tspan font-size="7" dy="-3.40">WT</tspan></text>
<text x="260.2" y="136.60" font-size="10" text-anchor="end" fill="#000" stroke="#000">K562<tspan font-size="7.3" dy="-3.4">CD19/20/22</tspan></text>
<text x="170.00" y="121.00" font-size="10.3" fill="#000" stroke="#000" transform="rotate(30 170.00 121.00)">CD19</text>
<rect x="197.50" y="149.10" width="77.10" height="9.70" fill="#ef7373" stroke="#888" stroke-width="0.5" />
<rect x="197.50" y="139.60" width="1.20" height="7.50" fill="#8a6ab5" />
<line x1="195.00" y1="144.50" x2="197.50" y2="144.50" stroke="#999" stroke-width="0.6" />
<line x1="195.00" y1="154.00" x2="197.50" y2="154.00" stroke="#999" stroke-width="0.6" />
<text x="260.20" y="148.50" font-size="9.8" text-anchor="end" fill="#000" stroke="#000">K562<tspan font-size="7" dy="-3.40">WT</tspan></text>
<text x="260.2" y="158.50" font-size="10" text-anchor="end" fill="#000" stroke="#000">K562<tspan font-size="7.3" dy="-3.4">CD19/20/22</tspan></text>
<text x="170.00" y="142.90" font-size="10.3" fill="#000" stroke="#000" transform="rotate(30 170.00 142.90)">CD20</text>
<rect x="197.50" y="171.20" width="77.10" height="9.70" fill="#f5e8b6" stroke="#888" stroke-width="0.5" />
<rect x="197.50" y="161.70" width="1.20" height="7.50" fill="#8a6ab5" />
<line x1="195.00" y1="166.60" x2="197.50" y2="166.60" stroke="#999" stroke-width="0.6" />
<line x1="195.00" y1="176.10" x2="197.50" y2="176.10" stroke="#999" stroke-width="0.6" />
<text x="260.20" y="170.60" font-size="9.8" text-anchor="end" fill="#000" stroke="#000">K562<tspan font-size="7" dy="-3.40">WT</tspan></text>
<text x="260.2" y="180.60" font-size="10" text-anchor="end" fill="#000" stroke="#000">K562<tspan font-size="7.3" dy="-3.4">CD19/20/22</tspan></text>
<text x="170.00" y="165.00" font-size="10.3" fill="#000" stroke="#000" transform="rotate(30 170.00 165.00)">CD22</text>
<line x1="197.50" y1="112.30" x2="275.00" y2="112.30" stroke="#666" stroke-width="0.7" stroke-dasharray="2 1.6"/>
<line x1="336.20" y1="35.00" x2="336.20" y2="151.40" stroke="#6a6a6a" stroke-width="1" />
<line x1="336.20" y1="151.40" x2="452.50" y2="151.40" stroke="#6a6a6a" stroke-width="1" />
<line x1="332.70" y1="151.40" x2="336.20" y2="151.40" stroke="#6a6a6a" stroke-width="1" />
<text x="0" y="0" font-size="12.5" transform="translate(330.20 156.00) scale(1 1.06)" text-anchor="end" fill="#000" stroke="#000">0</text>
<line x1="332.70" y1="112.60" x2="336.20" y2="112.60" stroke="#6a6a6a" stroke-width="1" />
<text x="0" y="0" font-size="12.5" transform="translate(330.20 117.20) scale(1 1.06)" text-anchor="end" fill="#000" stroke="#000">40</text>
<line x1="332.70" y1="73.80" x2="336.20" y2="73.80" stroke="#6a6a6a" stroke-width="1" />
<text x="0" y="0" font-size="12.5" transform="translate(330.20 78.40) scale(1 1.06)" text-anchor="end" fill="#000" stroke="#000">80</text>
<line x1="332.70" y1="35.00" x2="336.20" y2="35.00" stroke="#6a6a6a" stroke-width="1" />
<text x="0" y="0" font-size="12.5" transform="translate(330.20 39.60) scale(1 1.06)" text-anchor="end" fill="#000" stroke="#000">120</text>
<line x1="351.00" y1="151.40" x2="351.00" y2="154.90" stroke="#6a6a6a" stroke-width="1" />
<text x="351.00" y="167.90" font-size="12.4" text-anchor="middle" fill="#000" stroke="#000">1:1</text>
<line x1="380.30" y1="151.40" x2="380.30" y2="154.90" stroke="#6a6a6a" stroke-width="1" />
<text x="380.30" y="167.90" font-size="12.4" text-anchor="middle" fill="#000" stroke="#000">1:2.5</text>
<line x1="409.40" y1="151.40" x2="409.40" y2="154.90" stroke="#6a6a6a" stroke-width="1" />
<text x="409.40" y="167.90" font-size="12.4" text-anchor="middle" fill="#000" stroke="#000">1:5</text>
<line x1="438.60" y1="151.40" x2="438.60" y2="154.90" stroke="#6a6a6a" stroke-width="1" />
<text x="438.60" y="167.90" font-size="12.4" text-anchor="middle" fill="#000" stroke="#000">1:10</text>
<text x="396.15" y="181.40" font-size="12.8" text-anchor="middle" fill="#000" stroke="#000">T:E ratio</text>
<text x="310.50" y="95.20" font-size="12.6" text-anchor="middle" fill="#000" stroke="#000" transform="rotate(-90 310.50 95.20)">% Cancer cell survival</text>
<text x="373.70" y="30.70" font-size="12.2" fill="#000" stroke="#000">K562<tspan font-size="8.8" dy="-4.50">CD19</tspan></text>
<line x1="351.00" y1="68.17" x2="351.00" y2="72.05" stroke="#666" stroke-width="0.8" />
<line x1="348.50" y1="68.17" x2="353.50" y2="68.17" stroke="#666" stroke-width="0.8" />
<line x1="348.50" y1="72.05" x2="353.50" y2="72.05" stroke="#666" stroke-width="0.8" />
<line x1="380.30" y1="100.28" x2="380.30" y2="104.16" stroke="#666" stroke-width="0.8" />
<line x1="377.80" y1="100.28" x2="382.80" y2="100.28" stroke="#666" stroke-width="0.8" />
<line x1="377.80" y1="104.16" x2="382.80" y2="104.16" stroke="#666" stroke-width="0.8" />
<line x1="409.40" y1="137.53" x2="409.40" y2="141.41" stroke="#666" stroke-width="0.8" />
<line x1="406.90" y1="137.53" x2="411.90" y2="137.53" stroke="#666" stroke-width="0.8" />
<line x1="406.90" y1="141.41" x2="411.90" y2="141.41" stroke="#666" stroke-width="0.8" />
<line x1="438.60" y1="145.00" x2="438.60" y2="148.88" stroke="#666" stroke-width="0.8" />
<line x1="436.10" y1="145.00" x2="441.10" y2="145.00" stroke="#666" stroke-width="0.8" />
<line x1="436.10" y1="148.88" x2="441.10" y2="148.88" stroke="#666" stroke-width="0.8" />
<path d="M351.00,70.11 L380.30,102.22 L409.40,139.47 L438.60,146.94" stroke="#f7c86a" stroke-width="1.2" fill="none" />
<line x1="380.30" y1="102.90" x2="380.30" y2="106.78" stroke="#666" stroke-width="0.8" />
<line x1="377.80" y1="102.90" x2="382.80" y2="102.90" stroke="#666" stroke-width="0.8" />
<line x1="377.80" y1="106.78" x2="382.80" y2="106.78" stroke="#666" stroke-width="0.8" />
<line x1="409.40" y1="126.57" x2="409.40" y2="136.27" stroke="#666" stroke-width="0.8" />
<line x1="406.90" y1="126.57" x2="411.90" y2="126.57" stroke="#666" stroke-width="0.8" />
<line x1="406.90" y1="136.27" x2="411.90" y2="136.27" stroke="#666" stroke-width="0.8" />
<line x1="438.60" y1="141.70" x2="438.60" y2="145.58" stroke="#666" stroke-width="0.8" />
<line x1="436.10" y1="141.70" x2="441.10" y2="141.70" stroke="#666" stroke-width="0.8" />
<line x1="436.10" y1="145.58" x2="441.10" y2="145.58" stroke="#666" stroke-width="0.8" />
<path d="M351.00,67.98 L380.30,104.84 L409.40,131.42 L438.60,143.64" stroke="#8de88a" stroke-width="1.2" fill="none" />
<line x1="380.30" y1="90.29" x2="380.30" y2="94.17" stroke="#666" stroke-width="0.8" />
<line x1="377.80" y1="90.29" x2="382.80" y2="90.29" stroke="#666" stroke-width="0.8" />
<line x1="377.80" y1="94.17" x2="382.80" y2="94.17" stroke="#666" stroke-width="0.8" />
<line x1="409.40" y1="112.79" x2="409.40" y2="118.61" stroke="#666" stroke-width="0.8" />
<line x1="406.90" y1="112.79" x2="411.90" y2="112.79" stroke="#666" stroke-width="0.8" />
<line x1="406.90" y1="118.61" x2="411.90" y2="118.61" stroke="#666" stroke-width="0.8" />
<line x1="438.60" y1="126.57" x2="438.60" y2="136.27" stroke="#666" stroke-width="0.8" />
<line x1="436.10" y1="126.57" x2="441.10" y2="126.57" stroke="#666" stroke-width="0.8" />
<line x1="436.10" y1="136.27" x2="441.10" y2="136.27" stroke="#666" stroke-width="0.8" />
<path d="M351.00,66.33 L380.30,92.23 L409.40,115.70 L438.60,131.42" stroke="#f28c1f" stroke-width="1.2" fill="none" />
<line x1="409.40" y1="91.75" x2="409.40" y2="103.38" stroke="#666" stroke-width="0.8" />
<line x1="406.90" y1="91.75" x2="411.90" y2="91.75" stroke="#666" stroke-width="0.8" />
<line x1="406.90" y1="103.38" x2="411.90" y2="103.38" stroke="#666" stroke-width="0.8" />
<line x1="438.60" y1="112.89" x2="438.60" y2="128.41" stroke="#666" stroke-width="0.8" />
<line x1="436.10" y1="112.89" x2="441.10" y2="112.89" stroke="#666" stroke-width="0.8" />
<line x1="436.10" y1="128.41" x2="441.10" y2="128.41" stroke="#666" stroke-width="0.8" />
<path d="M351.00,63.13 L380.30,69.92 L409.40,97.56 L438.60,120.65" stroke="#222" stroke-width="1.2" fill="none" />
<path d="M351.00,58.28 L380.30,63.13 L409.40,68.95 L438.60,70.89" stroke="#5ac79a" stroke-width="1.2" fill="none" />
<path d="M351.00,57.31 L380.30,61.19 L409.40,67.01 L438.60,71.86" stroke="#f03c28" stroke-width="1.2" fill="none" />
<path d="M351.00,57.02 L380.30,62.16 L409.40,67.01 L438.60,69.92" stroke="#333" stroke-width="1.2" fill="none" />
<circle cx="351.00" cy="70.11" r="2.40" fill="#f3b655" stroke="#1a1a1a" stroke-width="0.9" />
<circle cx="380.30" cy="102.22" r="2.40" fill="#f3b655" stroke="#1a1a1a" stroke-width="0.9" />
<circle cx="409.40" cy="139.47" r="2.40" fill="#f3b655" stroke="#1a1a1a" stroke-width="0.9" />
<circle cx="438.60" cy="146.94" r="2.40" fill="#f3b655" stroke="#1a1a1a" stroke-width="0.9" />
<circle cx="351.00" cy="67.98" r="2.40" fill="#ffffff" stroke="#1a1a1a" stroke-width="0.9" />
<circle cx="380.30" cy="104.84" r="2.40" fill="#ffffff" stroke="#1a1a1a" stroke-width="0.9" />
<circle cx="409.40" cy="131.42" r="2.40" fill="#ffffff" stroke="#1a1a1a" stroke-width="0.9" />
<circle cx="438.60" cy="143.64" r="2.40" fill="#ffffff" stroke="#1a1a1a" stroke-width="0.9" />
<circle cx="351.00" cy="66.33" r="2.40" fill="#f28c1f" stroke="#1a1a1a" stroke-width="0.9" />
<circle cx="380.30" cy="92.23" r="2.40" fill="#f28c1f" stroke="#1a1a1a" stroke-width="0.9" />
<circle cx="409.40" cy="115.70" r="2.40" fill="#f28c1f" stroke="#1a1a1a" stroke-width="0.9" />
<circle cx="438.60" cy="131.42" r="2.40" fill="#f28c1f" stroke="#1a1a1a" stroke-width="0.9" />
<circle cx="351.00" cy="63.13" r="2.40" fill="#f4f4f4" stroke="#1a1a1a" stroke-width="0.9" />
<circle cx="380.30" cy="69.92" r="2.40" fill="#f4f4f4" stroke="#1a1a1a" stroke-width="0.9" />
<circle cx="409.40" cy="97.56" r="2.40" fill="#f4f4f4" stroke="#1a1a1a" stroke-width="0.9" />
<circle cx="438.60" cy="120.65" r="2.40" fill="#f4f4f4" stroke="#1a1a1a" stroke-width="0.9" />
<circle cx="351.00" cy="58.28" r="2.40" fill="#4fc384" stroke="#1a1a1a" stroke-width="0.9" />
<circle cx="380.30" cy="63.13" r="2.40" fill="#4fc384" stroke="#1a1a1a" stroke-width="0.9" />
<circle cx="409.40" cy="68.95" r="2.40" fill="#4fc384" stroke="#1a1a1a" stroke-width="0.9" />
<circle cx="438.60" cy="70.89" r="2.40" fill="#4fc384" stroke="#1a1a1a" stroke-width="0.9" />
<circle cx="351.00" cy="57.31" r="2.40" fill="#f04a2c" stroke="#1a1a1a" stroke-width="0.9" />
<circle cx="380.30" cy="61.19" r="2.40" fill="#f04a2c" stroke="#1a1a1a" stroke-width="0.9" />
<circle cx="409.40" cy="67.01" r="2.40" fill="#f04a2c" stroke="#1a1a1a" stroke-width="0.9" />
<circle cx="438.60" cy="71.86" r="2.40" fill="#f04a2c" stroke="#1a1a1a" stroke-width="0.9" />
<circle cx="351.00" cy="57.02" r="2.40" fill="#4a4a4a" stroke="#1a1a1a" stroke-width="0.9" />
<circle cx="380.30" cy="62.16" r="2.40" fill="#4a4a4a" stroke="#1a1a1a" stroke-width="0.9" />
<circle cx="409.40" cy="67.01" r="2.40" fill="#4a4a4a" stroke="#1a1a1a" stroke-width="0.9" />
<circle cx="438.60" cy="69.92" r="2.40" fill="#4a4a4a" stroke="#1a1a1a" stroke-width="0.9" />
<line x1="453.10" y1="65.90" x2="464.10" y2="65.90" stroke="#333" stroke-width="1" />
<circle cx="458.60" cy="65.90" r="2.40" fill="#4a4a4a" stroke="#222" stroke-width="0.8" />
<text x="469.40" y="70.10" font-size="12.4" fill="#000" stroke="#000">Vector</text>
<line x1="453.10" y1="78.73" x2="464.10" y2="78.73" stroke="#f7c86a" stroke-width="1" />
<circle cx="458.60" cy="78.73" r="2.40" fill="#f3b655" stroke="#222" stroke-width="0.8" />
<text x="469.40" y="82.93" font-size="12.4" fill="#000" stroke="#000">m19</text>
<line x1="453.10" y1="91.56" x2="464.10" y2="91.56" stroke="#5ac79a" stroke-width="1" />
<circle cx="458.60" cy="91.56" r="2.40" fill="#4fc384" stroke="#222" stroke-width="0.8" />
<text x="469.40" y="95.76" font-size="12.4" fill="#000" stroke="#000">m20</text>
<line x1="453.10" y1="104.39" x2="464.10" y2="104.39" stroke="#f03c28" stroke-width="1" />
<circle cx="458.60" cy="104.39" r="2.40" fill="#f04a2c" stroke="#222" stroke-width="0.8" />
<text x="469.40" y="108.59" font-size="12.4" fill="#000" stroke="#000">m22</text>
<line x1="453.10" y1="117.22" x2="464.10" y2="117.22" stroke="#8de88a" stroke-width="1" />
<circle cx="458.60" cy="117.22" r="2.40" fill="#ffffff" stroke="#222" stroke-width="0.8" />
<text x="469.40" y="121.42" font-size="12.4" fill="#000" stroke="#000">b20/19</text>
<line x1="453.10" y1="130.05" x2="464.10" y2="130.05" stroke="#f28c1f" stroke-width="1" />
<circle cx="458.60" cy="130.05" r="2.40" fill="#f28c1f" stroke="#222" stroke-width="0.8" />
<text x="469.40" y="134.25" font-size="12.4" fill="#000" stroke="#000">b22/19</text>
<line x1="453.10" y1="142.88" x2="464.10" y2="142.88" stroke="#222" stroke-width="1" />
<circle cx="458.60" cy="142.88" r="2.40" fill="#8a8a8a" stroke="#222" stroke-width="0.8" />
<text x="469.40" y="147.08" font-size="12.4" fill="#000" stroke="#000">t20/22/19</text>
<line x1="567.50" y1="38.40" x2="567.50" y2="155.00" stroke="#6a6a6a" stroke-width="1" />
<line x1="567.50" y1="155.00" x2="683.00" y2="155.00" stroke="#6a6a6a" stroke-width="1" />
<line x1="564.00" y1="155.00" x2="567.50" y2="155.00" stroke="#6a6a6a" stroke-width="1" />
<text x="0" y="0" font-size="12.5" transform="translate(561.50 159.60) scale(1 1.06)" text-anchor="end" fill="#000" stroke="#000">0</text>
<line x1="564.00" y1="116.13" x2="567.50" y2="116.13" stroke="#6a6a6a" stroke-width="1" />
<text x="0" y="0" font-size="12.5" transform="translate(561.50 120.73) scale(1 1.06)" text-anchor="end" fill="#000" stroke="#000">40</text>
<line x1="564.00" y1="77.26" x2="567.50" y2="77.26" stroke="#6a6a6a" stroke-width="1" />
<text x="0" y="0" font-size="12.5" transform="translate(561.50 81.86) scale(1 1.06)" text-anchor="end" fill="#000" stroke="#000">80</text>
<line x1="564.00" y1="38.40" x2="567.50" y2="38.40" stroke="#6a6a6a" stroke-width="1" />
<text x="0" y="0" font-size="12.5" transform="translate(561.50 43.00) scale(1 1.06)" text-anchor="end" fill="#000" stroke="#000">120</text>
<line x1="581.30" y1="155.00" x2="581.30" y2="158.50" stroke="#6a6a6a" stroke-width="1" />
<text x="581.30" y="171.50" font-size="12.4" text-anchor="middle" fill="#000" stroke="#000">1:1</text>
<line x1="610.90" y1="155.00" x2="610.90" y2="158.50" stroke="#6a6a6a" stroke-width="1" />
<text x="610.90" y="171.50" font-size="12.4" text-anchor="middle" fill="#000" stroke="#000">1:2.5</text>
<line x1="639.90" y1="155.00" x2="639.90" y2="158.50" stroke="#6a6a6a" stroke-width="1" />
<text x="639.90" y="171.50" font-size="12.4" text-anchor="middle" fill="#000" stroke="#000">1:5</text>
<line x1="669.10" y1="155.00" x2="669.10" y2="158.50" stroke="#6a6a6a" stroke-width="1" />
<text x="669.10" y="171.50" font-size="12.4" text-anchor="middle" fill="#000" stroke="#000">1:10</text>
<text x="623.65" y="185.00" font-size="12.8" text-anchor="middle" fill="#000" stroke="#000">T:E ratio</text>
<text x="539.60" y="98.70" font-size="12.6" text-anchor="middle" fill="#000" stroke="#000" transform="rotate(-90 539.60 98.70)">% Cancer cell survival</text>
<text x="595.50" y="34.40" font-size="12.2" fill="#000" stroke="#000">K562<tspan font-size="8.8" dy="-4.50">CD20</tspan></text>
<line x1="610.90" y1="100.39" x2="610.90" y2="108.16" stroke="#666" stroke-width="0.8" />
<line x1="608.40" y1="100.39" x2="613.40" y2="100.39" stroke="#666" stroke-width="0.8" />
<line x1="608.40" y1="108.16" x2="613.40" y2="108.16" stroke="#666" stroke-width="0.8" />
<line x1="639.90" y1="131.00" x2="639.90" y2="134.89" stroke="#666" stroke-width="0.8" />
<line x1="637.40" y1="131.00" x2="642.40" y2="131.00" stroke="#666" stroke-width="0.8" />
<line x1="637.40" y1="134.89" x2="642.40" y2="134.89" stroke="#666" stroke-width="0.8" />
<line x1="669.10" y1="139.45" x2="669.10" y2="145.28" stroke="#666" stroke-width="0.8" />
<line x1="666.60" y1="139.45" x2="671.60" y2="139.45" stroke="#666" stroke-width="0.8" />
<line x1="666.60" y1="145.28" x2="671.60" y2="145.28" stroke="#666" stroke-width="0.8" />
<path d="M581.30,72.41 L610.90,104.28 L639.90,132.94 L669.10,142.37" stroke="#8de88a" stroke-width="1.2" fill="none" />
<line x1="581.30" y1="69.59" x2="581.30" y2="75.42" stroke="#666" stroke-width="0.8" />
<line x1="578.80" y1="69.59" x2="583.80" y2="69.59" stroke="#666" stroke-width="0.8" />
<line x1="578.80" y1="75.42" x2="583.80" y2="75.42" stroke="#666" stroke-width="0.8" />
<line x1="610.90" y1="95.05" x2="610.90" y2="100.88" stroke="#666" stroke-width="0.8" />
<line x1="608.40" y1="95.05" x2="613.40" y2="95.05" stroke="#666" stroke-width="0.8" />
<line x1="608.40" y1="100.88" x2="613.40" y2="100.88" stroke="#666" stroke-width="0.8" />
<line x1="639.90" y1="127.40" x2="639.90" y2="131.29" stroke="#666" stroke-width="0.8" />
<line x1="637.40" y1="127.40" x2="642.40" y2="127.40" stroke="#666" stroke-width="0.8" />
<line x1="637.40" y1="131.29" x2="642.40" y2="131.29" stroke="#666" stroke-width="0.8" />
<line x1="669.10" y1="138.58" x2="669.10" y2="146.35" stroke="#666" stroke-width="0.8" />
<line x1="666.60" y1="138.58" x2="671.60" y2="138.58" stroke="#666" stroke-width="0.8" />
<line x1="666.60" y1="146.35" x2="671.60" y2="146.35" stroke="#666" stroke-width="0.8" />
<path d="M581.30,72.50 L610.90,97.96 L639.90,129.35 L669.10,142.47" stroke="#5ac79a" stroke-width="1.2" fill="none" />
<line x1="581.30" y1="65.31" x2="581.30" y2="69.20" stroke="#666" stroke-width="0.8" />
<line x1="578.80" y1="65.31" x2="583.80" y2="65.31" stroke="#666" stroke-width="0.8" />
<line x1="578.80" y1="69.20" x2="583.80" y2="69.20" stroke="#666" stroke-width="0.8" />
<line x1="610.90" y1="71.63" x2="610.90" y2="75.51" stroke="#666" stroke-width="0.8" />
<line x1="608.40" y1="71.63" x2="613.40" y2="71.63" stroke="#666" stroke-width="0.8" />
<line x1="608.40" y1="75.51" x2="613.40" y2="75.51" stroke="#666" stroke-width="0.8" />
<line x1="639.90" y1="88.73" x2="639.90" y2="104.28" stroke="#666" stroke-width="0.8" />
<line x1="637.40" y1="88.73" x2="642.40" y2="88.73" stroke="#666" stroke-width="0.8" />
<line x1="637.40" y1="104.28" x2="642.40" y2="104.28" stroke="#666" stroke-width="0.8" />
<line x1="669.10" y1="119.34" x2="669.10" y2="131.00" stroke="#666" stroke-width="0.8" />
<line x1="666.60" y1="119.34" x2="671.60" y2="119.34" stroke="#666" stroke-width="0.8" />
<line x1="666.60" y1="131.00" x2="671.60" y2="131.00" stroke="#666" stroke-width="0.8" />
<path d="M581.30,67.26 L610.90,73.57 L639.90,96.50 L669.10,125.17" stroke="#222" stroke-width="1.2" fill="none" />
<path d="M581.30,62.69 L610.90,64.63 L639.90,66.58 L669.10,71.43" stroke="#f7c86a" stroke-width="1.2" fill="none" />
<path d="M581.30,59.77 L610.90,62.69 L639.90,69.49 L669.10,73.38" stroke="#f03c28" stroke-width="1.2" fill="none" />
<path d="M581.30,60.75 L610.90,63.66 L639.90,69.49 L669.10,71.43" stroke="#f28c1f" stroke-width="1.2" fill="none" />
<path d="M581.30,58.90 L610.90,61.52 L639.90,64.05 L669.10,69.49" stroke="#333" stroke-width="1.2" fill="none" />
<circle cx="581.30" cy="72.41" r="2.40" fill="#ffffff" stroke="#1a1a1a" stroke-width="0.9" />
<circle cx="610.90" cy="104.28" r="2.40" fill="#ffffff" stroke="#1a1a1a" stroke-width="0.9" />
<circle cx="639.90" cy="132.94" r="2.40" fill="#ffffff" stroke="#1a1a1a" stroke-width="0.9" />
<circle cx="669.10" cy="142.37" r="2.40" fill="#ffffff" stroke="#1a1a1a" stroke-width="0.9" />
<circle cx="581.30" cy="72.50" r="2.40" fill="#4fc384" stroke="#1a1a1a" stroke-width="0.9" />
<circle cx="610.90" cy="97.96" r="2.40" fill="#4fc384" stroke="#1a1a1a" stroke-width="0.9" />
<circle cx="639.90" cy="129.35" r="2.40" fill="#4fc384" stroke="#1a1a1a" stroke-width="0.9" />
<circle cx="669.10" cy="142.47" r="2.40" fill="#4fc384" stroke="#1a1a1a" stroke-width="0.9" />
<circle cx="581.30" cy="67.26" r="2.40" fill="#f4f4f4" stroke="#1a1a1a" stroke-width="0.9" />
<circle cx="610.90" cy="73.57" r="2.40" fill="#f4f4f4" stroke="#1a1a1a" stroke-width="0.9" />
<circle cx="639.90" cy="96.50" r="2.40" fill="#f4f4f4" stroke="#1a1a1a" stroke-width="0.9" />
<circle cx="669.10" cy="125.17" r="2.40" fill="#f4f4f4" stroke="#1a1a1a" stroke-width="0.9" />
<circle cx="581.30" cy="62.69" r="2.40" fill="#f3b655" stroke="#1a1a1a" stroke-width="0.9" />
<circle cx="610.90" cy="64.63" r="2.40" fill="#f3b655" stroke="#1a1a1a" stroke-width="0.9" />
<circle cx="639.90" cy="66.58" r="2.40" fill="#f3b655" stroke="#1a1a1a" stroke-width="0.9" />
<circle cx="669.10" cy="71.43" r="2.40" fill="#f3b655" stroke="#1a1a1a" stroke-width="0.9" />
<circle cx="581.30" cy="59.77" r="2.40" fill="#f04a2c" stroke="#1a1a1a" stroke-width="0.9" />
<circle cx="610.90" cy="62.69" r="2.40" fill="#f04a2c" stroke="#1a1a1a" stroke-width="0.9" />
<circle cx="639.90" cy="69.49" r="2.40" fill="#f04a2c" stroke="#1a1a1a" stroke-width="0.9" />
<circle cx="669.10" cy="73.38" r="2.40" fill="#f04a2c" stroke="#1a1a1a" stroke-width="0.9" />
<circle cx="581.30" cy="60.75" r="2.40" fill="#f28c1f" stroke="#1a1a1a" stroke-width="0.9" />
<circle cx="610.90" cy="63.66" r="2.40" fill="#f28c1f" stroke="#1a1a1a" stroke-width="0.9" />
<circle cx="639.90" cy="69.49" r="2.40" fill="#f28c1f" stroke="#1a1a1a" stroke-width="0.9" />
<circle cx="669.10" cy="71.43" r="2.40" fill="#f28c1f" stroke="#1a1a1a" stroke-width="0.9" />
<circle cx="581.30" cy="58.90" r="2.40" fill="#4a4a4a" stroke="#1a1a1a" stroke-width="0.9" />
<circle cx="610.90" cy="61.52" r="2.40" fill="#4a4a4a" stroke="#1a1a1a" stroke-width="0.9" />
<circle cx="639.90" cy="64.05" r="2.40" fill="#4a4a4a" stroke="#1a1a1a" stroke-width="0.9" />
<circle cx="669.10" cy="69.49" r="2.40" fill="#4a4a4a" stroke="#1a1a1a" stroke-width="0.9" />
<line x1="64.50" y1="241.48" x2="64.50" y2="358.60" stroke="#6a6a6a" stroke-width="1" />
<line x1="64.50" y1="358.60" x2="180.50" y2="358.60" stroke="#6a6a6a" stroke-width="1" />
<line x1="61.00" y1="358.60" x2="64.50" y2="358.60" stroke="#6a6a6a" stroke-width="1" />
<text x="0" y="0" font-size="12.5" transform="translate(58.50 363.20) scale(1 1.06)" text-anchor="end" fill="#000" stroke="#000">0</text>
<line x1="61.00" y1="319.56" x2="64.50" y2="319.56" stroke="#6a6a6a" stroke-width="1" />
<text x="0" y="0" font-size="12.5" transform="translate(58.50 324.16) scale(1 1.06)" text-anchor="end" fill="#000" stroke="#000">40</text>
<line x1="61.00" y1="280.52" x2="64.50" y2="280.52" stroke="#6a6a6a" stroke-width="1" />
<text x="0" y="0" font-size="12.5" transform="translate(58.50 285.12) scale(1 1.06)" text-anchor="end" fill="#000" stroke="#000">80</text>
<line x1="61.00" y1="241.48" x2="64.50" y2="241.48" stroke="#6a6a6a" stroke-width="1" />
<text x="0" y="0" font-size="12.5" transform="translate(58.50 246.08) scale(1 1.06)" text-anchor="end" fill="#000" stroke="#000">120</text>
<line x1="78.30" y1="358.60" x2="78.30" y2="362.10" stroke="#6a6a6a" stroke-width="1" />
<text x="78.30" y="375.10" font-size="12.4" text-anchor="middle" fill="#000" stroke="#000">1:1</text>
<line x1="107.60" y1="358.60" x2="107.60" y2="362.10" stroke="#6a6a6a" stroke-width="1" />
<text x="107.60" y="375.10" font-size="12.4" text-anchor="middle" fill="#000" stroke="#000">1:2.5</text>
<line x1="137.10" y1="358.60" x2="137.10" y2="362.10" stroke="#6a6a6a" stroke-width="1" />
<text x="137.10" y="375.10" font-size="12.4" text-anchor="middle" fill="#000" stroke="#000">1:5</text>
<line x1="166.40" y1="358.60" x2="166.40" y2="362.10" stroke="#6a6a6a" stroke-width="1" />
<text x="166.40" y="375.10" font-size="12.4" text-anchor="middle" fill="#000" stroke="#000">1:10</text>
<text x="126.25" y="388.60" font-size="12.8" text-anchor="middle" fill="#000" stroke="#000">T:E ratio</text>
<text x="37.60" y="302.04" font-size="12.6" text-anchor="middle" fill="#000" stroke="#000" transform="rotate(-90 37.60 302.04)">% Cancer cell survival</text>
<text x="94.50" y="246.10" font-size="12.2" fill="#000" stroke="#000">K562<tspan font-size="8.8" dy="-4.50">CD22</tspan></text>
<line x1="78.30" y1="269.78" x2="78.30" y2="277.59" stroke="#666" stroke-width="0.8" />
<line x1="75.80" y1="269.78" x2="80.80" y2="269.78" stroke="#666" stroke-width="0.8" />
<line x1="75.80" y1="277.59" x2="80.80" y2="277.59" stroke="#666" stroke-width="0.8" />
<line x1="107.60" y1="288.13" x2="107.60" y2="293.99" stroke="#666" stroke-width="0.8" />
<line x1="105.10" y1="288.13" x2="110.10" y2="288.13" stroke="#666" stroke-width="0.8" />
<line x1="105.10" y1="293.99" x2="110.10" y2="293.99" stroke="#666" stroke-width="0.8" />
<line x1="137.10" y1="296.43" x2="137.10" y2="312.04" stroke="#666" stroke-width="0.8" />
<line x1="134.60" y1="296.43" x2="139.60" y2="296.43" stroke="#666" stroke-width="0.8" />
<line x1="134.60" y1="312.04" x2="139.60" y2="312.04" stroke="#666" stroke-width="0.8" />
<line x1="166.40" y1="322.49" x2="166.40" y2="340.06" stroke="#666" stroke-width="0.8" />
<line x1="163.90" y1="322.49" x2="168.90" y2="322.49" stroke="#666" stroke-width="0.8" />
<line x1="163.90" y1="340.06" x2="168.90" y2="340.06" stroke="#666" stroke-width="0.8" />
<path d="M78.30,273.69 L107.60,291.06 L137.10,304.24 L166.40,331.27" stroke="#222" stroke-width="1.2" fill="none" />
<line x1="78.30" y1="271.74" x2="78.30" y2="277.59" stroke="#666" stroke-width="0.8" />
<line x1="75.80" y1="271.74" x2="80.80" y2="271.74" stroke="#666" stroke-width="0.8" />
<line x1="75.80" y1="277.59" x2="80.80" y2="277.59" stroke="#666" stroke-width="0.8" />
<line x1="107.60" y1="302.48" x2="107.60" y2="310.29" stroke="#666" stroke-width="0.8" />
<line x1="105.10" y1="302.48" x2="110.10" y2="302.48" stroke="#666" stroke-width="0.8" />
<line x1="105.10" y1="310.29" x2="110.10" y2="310.29" stroke="#666" stroke-width="0.8" />
<line x1="137.10" y1="322.49" x2="137.10" y2="328.34" stroke="#666" stroke-width="0.8" />
<line x1="134.60" y1="322.49" x2="139.60" y2="322.49" stroke="#666" stroke-width="0.8" />
<line x1="134.60" y1="328.34" x2="139.60" y2="328.34" stroke="#666" stroke-width="0.8" />
<line x1="166.40" y1="342.98" x2="166.40" y2="348.84" stroke="#666" stroke-width="0.8" />
<line x1="163.90" y1="342.98" x2="168.90" y2="342.98" stroke="#666" stroke-width="0.8" />
<line x1="163.90" y1="348.84" x2="168.90" y2="348.84" stroke="#666" stroke-width="0.8" />
<path d="M78.30,274.66 L107.60,306.38 L137.10,325.42 L166.40,345.91" stroke="#f28c1f" stroke-width="1.2" fill="none" />
<line x1="78.30" y1="269.39" x2="78.30" y2="275.25" stroke="#666" stroke-width="0.8" />
<line x1="75.80" y1="269.39" x2="80.80" y2="269.39" stroke="#666" stroke-width="0.8" />
<line x1="75.80" y1="275.25" x2="80.80" y2="275.25" stroke="#666" stroke-width="0.8" />
<line x1="107.60" y1="302.28" x2="107.60" y2="310.09" stroke="#666" stroke-width="0.8" />
<line x1="105.10" y1="302.28" x2="110.10" y2="302.28" stroke="#666" stroke-width="0.8" />
<line x1="105.10" y1="310.09" x2="110.10" y2="310.09" stroke="#666" stroke-width="0.8" />
<line x1="137.10" y1="322.49" x2="137.10" y2="328.34" stroke="#666" stroke-width="0.8" />
<line x1="134.60" y1="322.49" x2="139.60" y2="322.49" stroke="#666" stroke-width="0.8" />
<line x1="134.60" y1="328.34" x2="139.60" y2="328.34" stroke="#666" stroke-width="0.8" />
<line x1="166.40" y1="342.69" x2="166.40" y2="348.55" stroke="#666" stroke-width="0.8" />
<line x1="163.90" y1="342.69" x2="168.90" y2="342.69" stroke="#666" stroke-width="0.8" />
<line x1="163.90" y1="348.55" x2="168.90" y2="348.55" stroke="#666" stroke-width="0.8" />
<path d="M78.30,272.32 L107.60,306.19 L137.10,325.42 L166.40,345.62" stroke="#f03c28" stroke-width="1.2" fill="none" />
<path d="M78.30,264.90 L107.60,266.86 L137.10,273.69 L166.40,273.69" stroke="#8de88a" stroke-width="1.2" fill="none" />
<path d="M78.30,266.86 L107.60,267.83 L137.10,267.83 L166.40,275.64" stroke="#f7c86a" stroke-width="1.2" fill="none" />
<path d="M78.30,262.95 L107.60,265.88 L137.10,273.69 L166.40,272.71" stroke="#5ac79a" stroke-width="1.2" fill="none" />
<path d="M78.30,263.93 L107.60,266.86 L137.10,268.81 L166.40,271.74" stroke="#333" stroke-width="1.2" fill="none" />
<circle cx="78.30" cy="273.69" r="2.40" fill="#f4f4f4" stroke="#1a1a1a" stroke-width="0.9" />
<circle cx="107.60" cy="291.06" r="2.40" fill="#f4f4f4" stroke="#1a1a1a" stroke-width="0.9" />
<circle cx="137.10" cy="304.24" r="2.40" fill="#f4f4f4" stroke="#1a1a1a" stroke-width="0.9" />
<circle cx="166.40" cy="331.27" r="2.40" fill="#f4f4f4" stroke="#1a1a1a" stroke-width="0.9" />
<circle cx="78.30" cy="274.66" r="2.40" fill="#f28c1f" stroke="#1a1a1a" stroke-width="0.9" />
<circle cx="107.60" cy="306.38" r="2.40" fill="#f28c1f" stroke="#1a1a1a" stroke-width="0.9" />
<circle cx="137.10" cy="325.42" r="2.40" fill="#f28c1f" stroke="#1a1a1a" stroke-width="0.9" />
<circle cx="166.40" cy="345.91" r="2.40" fill="#f28c1f" stroke="#1a1a1a" stroke-width="0.9" />
<circle cx="78.30" cy="272.32" r="2.40" fill="#f04a2c" stroke="#1a1a1a" stroke-width="0.9" />
<circle cx="107.60" cy="306.19" r="2.40" fill="#f04a2c" stroke="#1a1a1a" stroke-width="0.9" />
<circle cx="137.10" cy="325.42" r="2.40" fill="#f04a2c" stroke="#1a1a1a" stroke-width="0.9" />
<circle cx="166.40" cy="345.62" r="2.40" fill="#f04a2c" stroke="#1a1a1a" stroke-width="0.9" />
<circle cx="78.30" cy="264.90" r="2.40" fill="#ffffff" stroke="#1a1a1a" stroke-width="0.9" />
<circle cx="107.60" cy="266.86" r="2.40" fill="#ffffff" stroke="#1a1a1a" stroke-width="0.9" />
<circle cx="137.10" cy="273.69" r="2.40" fill="#ffffff" stroke="#1a1a1a" stroke-width="0.9" />
<circle cx="166.40" cy="273.69" r="2.40" fill="#ffffff" stroke="#1a1a1a" stroke-width="0.9" />
<circle cx="78.30" cy="266.86" r="2.40" fill="#f3b655" stroke="#1a1a1a" stroke-width="0.9" />
<circle cx="107.60" cy="267.83" r="2.40" fill="#f3b655" stroke="#1a1a1a" stroke-width="0.9" />
<circle cx="137.10" cy="267.83" r="2.40" fill="#f3b655" stroke="#1a1a1a" stroke-width="0.9" />
<circle cx="166.40" cy="275.64" r="2.40" fill="#f3b655" stroke="#1a1a1a" stroke-width="0.9" />
<circle cx="78.30" cy="262.95" r="2.40" fill="#4fc384" stroke="#1a1a1a" stroke-width="0.9" />
<circle cx="107.60" cy="265.88" r="2.40" fill="#4fc384" stroke="#1a1a1a" stroke-width="0.9" />
<circle cx="137.10" cy="273.69" r="2.40" fill="#4fc384" stroke="#1a1a1a" stroke-width="0.9" />
<circle cx="166.40" cy="272.71" r="2.40" fill="#4fc384" stroke="#1a1a1a" stroke-width="0.9" />
<circle cx="78.30" cy="263.93" r="2.40" fill="#4a4a4a" stroke="#1a1a1a" stroke-width="0.9" />
<circle cx="107.60" cy="266.86" r="2.40" fill="#4a4a4a" stroke="#1a1a1a" stroke-width="0.9" />
<circle cx="137.10" cy="268.81" r="2.40" fill="#4a4a4a" stroke="#1a1a1a" stroke-width="0.9" />
<circle cx="166.40" cy="271.74" r="2.40" fill="#4a4a4a" stroke="#1a1a1a" stroke-width="0.9" />
<line x1="262.40" y1="246.74" x2="262.40" y2="363.50" stroke="#6a6a6a" stroke-width="1" />
<line x1="262.40" y1="363.50" x2="379.00" y2="363.50" stroke="#6a6a6a" stroke-width="1" />
<line x1="258.90" y1="363.50" x2="262.40" y2="363.50" stroke="#6a6a6a" stroke-width="1" />
<text x="0" y="0" font-size="12.5" transform="translate(256.40 368.10) scale(1 1.06)" text-anchor="end" fill="#000" stroke="#000">0</text>
<line x1="258.90" y1="324.58" x2="262.40" y2="324.58" stroke="#6a6a6a" stroke-width="1" />
<text x="0" y="0" font-size="12.5" transform="translate(256.40 329.18) scale(1 1.06)" text-anchor="end" fill="#000" stroke="#000">40</text>
<line x1="258.90" y1="285.66" x2="262.40" y2="285.66" stroke="#6a6a6a" stroke-width="1" />
<text x="0" y="0" font-size="12.5" transform="translate(256.40 290.26) scale(1 1.06)" text-anchor="end" fill="#000" stroke="#000">80</text>
<line x1="258.90" y1="246.74" x2="262.40" y2="246.74" stroke="#6a6a6a" stroke-width="1" />
<text x="0" y="0" font-size="12.5" transform="translate(256.40 251.34) scale(1 1.06)" text-anchor="end" fill="#000" stroke="#000">120</text>
<line x1="276.70" y1="363.50" x2="276.70" y2="367.00" stroke="#6a6a6a" stroke-width="1" />
<text x="276.70" y="380.00" font-size="12.4" text-anchor="middle" fill="#000" stroke="#000">1:1</text>
<line x1="305.70" y1="363.50" x2="305.70" y2="367.00" stroke="#6a6a6a" stroke-width="1" />
<text x="305.70" y="380.00" font-size="12.4" text-anchor="middle" fill="#000" stroke="#000">1:2.5</text>
<line x1="335.00" y1="363.50" x2="335.00" y2="367.00" stroke="#6a6a6a" stroke-width="1" />
<text x="335.00" y="380.00" font-size="12.4" text-anchor="middle" fill="#000" stroke="#000">1:5</text>
<line x1="364.00" y1="363.50" x2="364.00" y2="367.00" stroke="#6a6a6a" stroke-width="1" />
<text x="364.00" y="380.00" font-size="12.4" text-anchor="middle" fill="#000" stroke="#000">1:10</text>
<text x="324.70" y="393.50" font-size="12.8" text-anchor="middle" fill="#000" stroke="#000">T:E ratio</text>
<text x="235.50" y="307.12" font-size="12.6" text-anchor="middle" fill="#000" stroke="#000" transform="rotate(-90 235.50 307.12)">% Cancer cell survival</text>
<text x="287.00" y="252.30" font-size="12.2" fill="#000" stroke="#000">K562<tspan font-size="8.8" dy="-4.50">CD19/20/22</tspan></text>
<line x1="276.70" y1="294.42" x2="276.70" y2="306.09" stroke="#666" stroke-width="0.8" />
<line x1="274.20" y1="294.42" x2="279.20" y2="294.42" stroke="#666" stroke-width="0.8" />
<line x1="274.20" y1="306.09" x2="279.20" y2="306.09" stroke="#666" stroke-width="0.8" />
<line x1="305.70" y1="323.61" x2="305.70" y2="331.39" stroke="#666" stroke-width="0.8" />
<line x1="303.20" y1="323.61" x2="308.20" y2="323.61" stroke="#666" stroke-width="0.8" />
<line x1="303.20" y1="331.39" x2="308.20" y2="331.39" stroke="#666" stroke-width="0.8" />
<line x1="335.00" y1="347.93" x2="335.00" y2="351.82" stroke="#666" stroke-width="0.8" />
<line x1="332.50" y1="347.93" x2="337.50" y2="347.93" stroke="#666" stroke-width="0.8" />
<line x1="332.50" y1="351.82" x2="337.50" y2="351.82" stroke="#666" stroke-width="0.8" />
<line x1="364.00" y1="355.81" x2="364.00" y2="359.71" stroke="#666" stroke-width="0.8" />
<line x1="361.50" y1="355.81" x2="366.50" y2="355.81" stroke="#666" stroke-width="0.8" />
<line x1="361.50" y1="359.71" x2="366.50" y2="359.71" stroke="#666" stroke-width="0.8" />
<path d="M276.70,300.25 L305.70,327.50 L335.00,349.88 L364.00,357.76" stroke="#8de88a" stroke-width="1.2" fill="none" />
<line x1="276.70" y1="287.80" x2="276.70" y2="293.64" stroke="#666" stroke-width="0.8" />
<line x1="274.20" y1="287.80" x2="279.20" y2="287.80" stroke="#666" stroke-width="0.8" />
<line x1="274.20" y1="293.64" x2="279.20" y2="293.64" stroke="#666" stroke-width="0.8" />
<line x1="305.70" y1="315.14" x2="305.70" y2="320.98" stroke="#666" stroke-width="0.8" />
<line x1="303.20" y1="315.14" x2="308.20" y2="315.14" stroke="#666" stroke-width="0.8" />
<line x1="303.20" y1="320.98" x2="308.20" y2="320.98" stroke="#666" stroke-width="0.8" />
<line x1="335.00" y1="341.70" x2="335.00" y2="345.60" stroke="#666" stroke-width="0.8" />
<line x1="332.50" y1="341.70" x2="337.50" y2="341.70" stroke="#666" stroke-width="0.8" />
<line x1="332.50" y1="345.60" x2="337.50" y2="345.60" stroke="#666" stroke-width="0.8" />
<line x1="364.00" y1="349.88" x2="364.00" y2="353.77" stroke="#666" stroke-width="0.8" />
<line x1="361.50" y1="349.88" x2="366.50" y2="349.88" stroke="#666" stroke-width="0.8" />
<line x1="361.50" y1="353.77" x2="366.50" y2="353.77" stroke="#666" stroke-width="0.8" />
<path d="M276.70,290.72 L305.70,318.06 L335.00,343.65 L364.00,351.82" stroke="#f28c1f" stroke-width="1.2" fill="none" />
<path d="M276.70,280.80 L305.70,313.00 L335.00,335.48 L364.00,349.10" stroke="#f7c86a" stroke-width="1.2" fill="none" />
<path d="M276.70,280.80 L305.70,309.01 L335.00,331.39 L364.00,347.93" stroke="#f03c28" stroke-width="1.2" fill="none" />
<line x1="276.70" y1="276.90" x2="276.70" y2="282.74" stroke="#666" stroke-width="0.8" />
<line x1="274.20" y1="276.90" x2="279.20" y2="276.90" stroke="#666" stroke-width="0.8" />
<line x1="274.20" y1="282.74" x2="279.20" y2="282.74" stroke="#666" stroke-width="0.8" />
<line x1="305.70" y1="293.74" x2="305.70" y2="315.14" stroke="#666" stroke-width="0.8" />
<line x1="303.20" y1="293.74" x2="308.20" y2="293.74" stroke="#666" stroke-width="0.8" />
<line x1="303.20" y1="315.14" x2="308.20" y2="315.14" stroke="#666" stroke-width="0.8" />
<line x1="335.00" y1="317.77" x2="335.00" y2="339.17" stroke="#666" stroke-width="0.8" />
<line x1="332.50" y1="317.77" x2="337.50" y2="317.77" stroke="#666" stroke-width="0.8" />
<line x1="332.50" y1="339.17" x2="337.50" y2="339.17" stroke="#666" stroke-width="0.8" />
<line x1="364.00" y1="340.15" x2="364.00" y2="351.82" stroke="#666" stroke-width="0.8" />
<line x1="361.50" y1="340.15" x2="366.50" y2="340.15" stroke="#666" stroke-width="0.8" />
<line x1="361.50" y1="351.82" x2="366.50" y2="351.82" stroke="#666" stroke-width="0.8" />
<path d="M276.70,279.82 L305.70,304.44 L335.00,328.47 L364.00,345.99" stroke="#222" stroke-width="1.2" fill="none" />
<path d="M276.70,278.85 L305.70,307.36 L335.00,327.50 L364.00,346.18" stroke="#5ac79a" stroke-width="1.2" fill="none" />
<path d="M276.70,269.61 L305.70,271.26 L335.00,273.79 L364.00,277.88" stroke="#444" stroke-width="1.2" fill="none" />
<circle cx="276.70" cy="300.25" r="2.40" fill="#ffffff" stroke="#1a1a1a" stroke-width="0.9" />
<circle cx="305.70" cy="327.50" r="2.40" fill="#ffffff" stroke="#1a1a1a" stroke-width="0.9" />
<circle cx="335.00" cy="349.88" r="2.40" fill="#ffffff" stroke="#1a1a1a" stroke-width="0.9" />
<circle cx="364.00" cy="357.76" r="2.40" fill="#ffffff" stroke="#1a1a1a" stroke-width="0.9" />
<circle cx="276.70" cy="290.72" r="2.40" fill="#f28c1f" stroke="#1a1a1a" stroke-width="0.9" />
<circle cx="305.70" cy="318.06" r="2.40" fill="#f28c1f" stroke="#1a1a1a" stroke-width="0.9" />
<circle cx="335.00" cy="343.65" r="2.40" fill="#f28c1f" stroke="#1a1a1a" stroke-width="0.9" />
<circle cx="364.00" cy="351.82" r="2.40" fill="#f28c1f" stroke="#1a1a1a" stroke-width="0.9" />
<circle cx="276.70" cy="280.80" r="2.40" fill="#f3b655" stroke="#1a1a1a" stroke-width="0.9" />
<circle cx="305.70" cy="313.00" r="2.40" fill="#f3b655" stroke="#1a1a1a" stroke-width="0.9" />
<circle cx="335.00" cy="335.48" r="2.40" fill="#f3b655" stroke="#1a1a1a" stroke-width="0.9" />
<circle cx="364.00" cy="349.10" r="2.40" fill="#f3b655" stroke="#1a1a1a" stroke-width="0.9" />
<circle cx="276.70" cy="280.80" r="2.40" fill="#f04a2c" stroke="#1a1a1a" stroke-width="0.9" />
<circle cx="305.70" cy="309.01" r="2.40" fill="#f04a2c" stroke="#1a1a1a" stroke-width="0.9" />
<circle cx="335.00" cy="331.39" r="2.40" fill="#f04a2c" stroke="#1a1a1a" stroke-width="0.9" />
<circle cx="364.00" cy="347.93" r="2.40" fill="#f04a2c" stroke="#1a1a1a" stroke-width="0.9" />
<circle cx="276.70" cy="279.82" r="2.40" fill="#f4f4f4" stroke="#1a1a1a" stroke-width="0.9" />
<circle cx="305.70" cy="304.44" r="2.40" fill="#f4f4f4" stroke="#1a1a1a" stroke-width="0.9" />
<circle cx="335.00" cy="328.47" r="2.40" fill="#f4f4f4" stroke="#1a1a1a" stroke-width="0.9" />
<circle cx="364.00" cy="345.99" r="2.40" fill="#f4f4f4" stroke="#1a1a1a" stroke-width="0.9" />
<circle cx="276.70" cy="278.85" r="2.40" fill="#4fc384" stroke="#1a1a1a" stroke-width="0.9" />
<circle cx="305.70" cy="307.36" r="2.40" fill="#4fc384" stroke="#1a1a1a" stroke-width="0.9" />
<circle cx="335.00" cy="327.50" r="2.40" fill="#4fc384" stroke="#1a1a1a" stroke-width="0.9" />
<circle cx="364.00" cy="346.18" r="2.40" fill="#4fc384" stroke="#1a1a1a" stroke-width="0.9" />
<circle cx="276.70" cy="269.61" r="2.40" fill="#777" stroke="#1a1a1a" stroke-width="0.9" />
<circle cx="305.70" cy="271.26" r="2.40" fill="#777" stroke="#1a1a1a" stroke-width="0.9" />
<circle cx="335.00" cy="273.79" r="2.40" fill="#777" stroke="#1a1a1a" stroke-width="0.9" />
<circle cx="364.00" cy="277.88" r="2.40" fill="#777" stroke="#1a1a1a" stroke-width="0.9" />
<rect x="180.50" y="272.10" width="1.20" height="1.20" fill="#999" opacity="0.45"/>
<rect x="180.50" y="285.10" width="1.20" height="1.20" fill="#f3c060" opacity="0.45"/>
<rect x="180.50" y="298.50" width="1.20" height="1.20" fill="#6cc8a0" opacity="0.45"/>
<rect x="180.50" y="311.50" width="1.20" height="1.20" fill="#f06050" opacity="0.45"/>
<rect x="180.50" y="324.50" width="1.20" height="1.20" fill="#90e890" opacity="0.45"/>
<rect x="180.50" y="336.50" width="1.20" height="1.20" fill="#f29030" opacity="0.45"/>
<rect x="180.50" y="349.10" width="1.20" height="1.20" fill="#999" opacity="0.45"/>
<rect x="378.50" y="277.00" width="1.20" height="1.20" fill="#999" opacity="0.45"/>
<rect x="378.50" y="289.90" width="1.20" height="1.20" fill="#f3c060" opacity="0.45"/>
<rect x="378.50" y="303.10" width="1.20" height="1.20" fill="#6cc8a0" opacity="0.45"/>
<rect x="378.50" y="316.10" width="1.20" height="1.20" fill="#f06050" opacity="0.45"/>
<rect x="378.50" y="329.10" width="1.20" height="1.20" fill="#90e890" opacity="0.45"/>
<rect x="378.50" y="341.90" width="1.20" height="1.20" fill="#f29030" opacity="0.45"/>
<rect x="378.50" y="354.10" width="1.20" height="1.20" fill="#999" opacity="0.45"/>
<rect x="462.50" y="238.20" width="23.71" height="16.70" fill="#f64238" />
<rect x="486.21" y="238.20" width="23.71" height="16.70" fill="#fa3525" />
<rect x="509.93" y="238.20" width="23.71" height="16.70" fill="#f64238" />
<rect x="533.64" y="238.20" width="23.71" height="16.70" fill="#ff2812" />
<rect x="557.36" y="238.20" width="23.71" height="16.70" fill="#f3534e" />
<rect x="581.07" y="238.20" width="23.71" height="16.70" fill="#fa3525" />
<rect x="604.79" y="238.20" width="23.71" height="16.70" fill="#ff2812" />
<rect x="462.50" y="254.90" width="23.71" height="16.70" fill="#f06464" />
<rect x="486.21" y="254.90" width="23.71" height="16.70" fill="#f3534e" />
<rect x="509.93" y="254.90" width="23.71" height="16.70" fill="#f06464" />
<rect x="533.64" y="254.90" width="23.71" height="16.70" fill="#f3534e" />
<rect x="557.36" y="254.90" width="23.71" height="16.70" fill="#eea8aa" />
<rect x="581.07" y="254.90" width="23.71" height="16.70" fill="#f06464" />
<rect x="604.79" y="254.90" width="23.71" height="16.70" fill="#f64238" />
<rect x="462.50" y="271.60" width="23.71" height="16.70" fill="#eea8aa" />
<rect x="486.21" y="271.60" width="23.71" height="16.70" fill="#ec8c8e" />
<rect x="509.93" y="271.60" width="23.71" height="16.70" fill="#eea8aa" />
<rect x="533.64" y="271.60" width="23.71" height="16.70" fill="#ed9a9c" />
<rect x="557.36" y="271.60" width="23.71" height="16.70" fill="#fcf2f4" />
<rect x="581.07" y="271.60" width="23.71" height="16.70" fill="#eea8aa" />
<rect x="604.79" y="271.60" width="23.71" height="16.70" fill="#f06464" />
<rect x="462.50" y="288.30" width="23.71" height="16.70" fill="#f4c8cb" />
<rect x="486.21" y="288.30" width="23.71" height="16.70" fill="#f1b8ba" />
<rect x="509.93" y="288.30" width="23.71" height="16.70" fill="#f4c8cb" />
<rect x="533.64" y="288.30" width="23.71" height="16.70" fill="#f1b8ba" />
<rect x="557.36" y="288.30" width="23.71" height="16.70" fill="#aeaefe" />
<rect x="581.07" y="288.30" width="23.71" height="16.70" fill="#f7d7da" />
<rect x="604.79" y="288.30" width="23.71" height="16.70" fill="#ec8c8e" />
<rect x="462.50" y="305.00" width="23.71" height="16.70" fill="#fcf2f4" />
<rect x="486.21" y="305.00" width="23.71" height="16.70" fill="#fae6e8" />
<rect x="509.93" y="305.00" width="23.71" height="16.70" fill="#fcf2f4" />
<rect x="533.64" y="305.00" width="23.71" height="16.70" fill="#fae6e8" />
<rect x="557.36" y="305.00" width="23.71" height="16.70" fill="#7d7dfd" />
<rect x="581.07" y="305.00" width="23.71" height="16.70" fill="#dfdfff" />
<rect x="604.79" y="305.00" width="23.71" height="16.70" fill="#eea8aa" />
<rect x="462.50" y="321.70" width="23.71" height="16.70" fill="#efefff" />
<rect x="486.21" y="321.70" width="23.71" height="16.70" fill="#dfdfff" />
<rect x="509.93" y="321.70" width="23.71" height="16.70" fill="#dfdfff" />
<rect x="533.64" y="321.70" width="23.71" height="16.70" fill="#dfdfff" />
<rect x="557.36" y="321.70" width="23.71" height="16.70" fill="#3c3cfc" />
<rect x="581.07" y="321.70" width="23.71" height="16.70" fill="#8e8efe" />
<rect x="604.79" y="321.70" width="23.71" height="16.70" fill="#f4c8cb" />
<rect x="462.50" y="338.40" width="23.71" height="16.70" fill="#aeaefe" />
<rect x="486.21" y="338.40" width="23.71" height="16.70" fill="#9e9efe" />
<rect x="509.93" y="338.40" width="23.71" height="16.70" fill="#aeaefe" />
<rect x="533.64" y="338.40" width="23.71" height="16.70" fill="#bebefe" />
<rect x="557.36" y="338.40" width="23.71" height="16.70" fill="#2c2cfc" />
<rect x="581.07" y="338.40" width="23.71" height="16.70" fill="#7d7dfd" />
<rect x="604.79" y="338.40" width="23.71" height="16.70" fill="#fcf2f4" />
<rect x="462.50" y="355.10" width="23.71" height="16.70" fill="#bebefe" />
<rect x="486.21" y="355.10" width="23.71" height="16.70" fill="#8e8efe" />
<rect x="509.93" y="355.10" width="23.71" height="16.70" fill="#9e9efe" />
<rect x="533.64" y="355.10" width="23.71" height="16.70" fill="#cecefe" />
<rect x="557.36" y="355.10" width="23.71" height="16.70" fill="#1c1cfc" />
<rect x="581.07" y="355.10" width="23.71" height="16.70" fill="#6d6dfd" />
<rect x="604.79" y="355.10" width="23.71" height="16.70" fill="#fae6e8" />
<line x1="462.50" y1="238.20" x2="628.50" y2="238.20" stroke="#333" stroke-width="0.7" />
<line x1="462.50" y1="254.90" x2="628.50" y2="254.90" stroke="#333" stroke-width="0.7" />
<line x1="462.50" y1="271.60" x2="628.50" y2="271.60" stroke="#333" stroke-width="0.7" />
<line x1="462.50" y1="288.30" x2="628.50" y2="288.30" stroke="#333" stroke-width="0.7" />
<line x1="462.50" y1="305.00" x2="628.50" y2="305.00" stroke="#333" stroke-width="0.7" />
<line x1="462.50" y1="321.70" x2="628.50" y2="321.70" stroke="#333" stroke-width="0.7" />
<line x1="462.50" y1="338.40" x2="628.50" y2="338.40" stroke="#333" stroke-width="0.7" />
<line x1="462.50" y1="355.10" x2="628.50" y2="355.10" stroke="#333" stroke-width="0.7" />
<line x1="462.50" y1="371.80" x2="628.50" y2="371.80" stroke="#333" stroke-width="0.7" />
<line x1="462.50" y1="238.20" x2="462.50" y2="371.80" stroke="#333" stroke-width="0.7" />
<line x1="486.21" y1="238.20" x2="486.21" y2="371.80" stroke="#333" stroke-width="0.7" />
<line x1="509.93" y1="238.20" x2="509.93" y2="371.80" stroke="#333" stroke-width="0.7" />
<line x1="533.64" y1="238.20" x2="533.64" y2="371.80" stroke="#333" stroke-width="0.7" />
<line x1="557.36" y1="238.20" x2="557.36" y2="371.80" stroke="#333" stroke-width="0.7" />
<line x1="581.07" y1="238.20" x2="581.07" y2="371.80" stroke="#333" stroke-width="0.7" />
<line x1="604.79" y1="238.20" x2="604.79" y2="371.80" stroke="#333" stroke-width="0.7" />
<line x1="628.50" y1="238.20" x2="628.50" y2="371.80" stroke="#333" stroke-width="0.7" />
<text x="474.36" y="250.85" font-size="12" text-anchor="middle" fill="#000" stroke="#000">7</text>
<text x="498.07" y="250.85" font-size="12" text-anchor="middle" fill="#000" stroke="#000">6</text>
<text x="521.79" y="250.85" font-size="12" text-anchor="middle" fill="#000" stroke="#000">7</text>
<text x="545.50" y="250.85" font-size="12" text-anchor="middle" fill="#000" stroke="#000">5</text>
<text x="569.21" y="250.85" font-size="12" text-anchor="middle" fill="#000" stroke="#000">8</text>
<text x="592.93" y="250.85" font-size="12" text-anchor="middle" fill="#000" stroke="#000">6</text>
<text x="616.64" y="250.85" font-size="12" text-anchor="middle" fill="#000" stroke="#000">5</text>
<text x="474.36" y="267.55" font-size="12" text-anchor="middle" fill="#000" stroke="#000">9</text>
<text x="498.07" y="267.55" font-size="12" text-anchor="middle" fill="#000" stroke="#000">8</text>
<text x="521.79" y="267.55" font-size="12" text-anchor="middle" fill="#000" stroke="#000">9</text>
<text x="545.50" y="267.55" font-size="12" text-anchor="middle" fill="#000" stroke="#000">8</text>
<text x="569.21" y="267.55" font-size="12" text-anchor="middle" fill="#000" stroke="#000">14</text>
<text x="592.93" y="267.55" font-size="12" text-anchor="middle" fill="#000" stroke="#000">9</text>
<text x="616.64" y="267.55" font-size="12" text-anchor="middle" fill="#000" stroke="#000">7</text>
<text x="474.36" y="284.25" font-size="12" text-anchor="middle" fill="#000" stroke="#000">14</text>
<text x="498.07" y="284.25" font-size="12" text-anchor="middle" fill="#000" stroke="#000">12</text>
<text x="521.79" y="284.25" font-size="12" text-anchor="middle" fill="#000" stroke="#000">14</text>
<text x="545.50" y="284.25" font-size="12" text-anchor="middle" fill="#000" stroke="#000">13</text>
<text x="569.21" y="284.25" font-size="12" text-anchor="middle" fill="#000" stroke="#000">19</text>
<text x="592.93" y="284.25" font-size="12" text-anchor="middle" fill="#000" stroke="#000">14</text>
<text x="616.64" y="284.25" font-size="12" text-anchor="middle" fill="#000" stroke="#000">9</text>
<text x="474.36" y="300.95" font-size="12" text-anchor="middle" fill="#000" stroke="#000">16</text>
<text x="498.07" y="300.95" font-size="12" text-anchor="middle" fill="#000" stroke="#000">15</text>
<text x="521.79" y="300.95" font-size="12" text-anchor="middle" fill="#000" stroke="#000">16</text>
<text x="545.50" y="300.95" font-size="12" text-anchor="middle" fill="#000" stroke="#000">15</text>
<text x="569.21" y="300.95" font-size="12" text-anchor="middle" fill="#000" stroke="#000">25</text>
<text x="592.93" y="300.95" font-size="12" text-anchor="middle" fill="#000" stroke="#000">17</text>
<text x="616.64" y="300.95" font-size="12" text-anchor="middle" fill="#000" stroke="#000">12</text>
<text x="474.36" y="317.65" font-size="12" text-anchor="middle" fill="#000" stroke="#000">19</text>
<text x="498.07" y="317.65" font-size="12" text-anchor="middle" fill="#000" stroke="#000">18</text>
<text x="521.79" y="317.65" font-size="12" text-anchor="middle" fill="#000" stroke="#000">19</text>
<text x="545.50" y="317.65" font-size="12" text-anchor="middle" fill="#000" stroke="#000">18</text>
<text x="569.21" y="317.65" font-size="12" text-anchor="middle" fill="#000" stroke="#000">28</text>
<text x="592.93" y="317.65" font-size="12" text-anchor="middle" fill="#000" stroke="#000">22</text>
<text x="616.64" y="317.65" font-size="12" text-anchor="middle" fill="#000" stroke="#000">14</text>
<text x="474.36" y="334.35" font-size="12" text-anchor="middle" fill="#000" stroke="#000">21</text>
<text x="498.07" y="334.35" font-size="12" text-anchor="middle" fill="#000" stroke="#000">22</text>
<text x="521.79" y="334.35" font-size="12" text-anchor="middle" fill="#000" stroke="#000">22</text>
<text x="545.50" y="334.35" font-size="12" text-anchor="middle" fill="#000" stroke="#000">22</text>
<text x="569.21" y="334.35" font-size="12" text-anchor="middle" fill="#fff" stroke="#fff">32</text>
<text x="592.93" y="334.35" font-size="12" text-anchor="middle" fill="#000" stroke="#000">27</text>
<text x="616.64" y="334.35" font-size="12" text-anchor="middle" fill="#000" stroke="#000">16</text>
<text x="474.36" y="351.05" font-size="12" text-anchor="middle" fill="#000" stroke="#000">25</text>
<text x="498.07" y="351.05" font-size="12" text-anchor="middle" fill="#000" stroke="#000">26</text>
<text x="521.79" y="351.05" font-size="12" text-anchor="middle" fill="#000" stroke="#000">25</text>
<text x="545.50" y="351.05" font-size="12" text-anchor="middle" fill="#000" stroke="#000">24</text>
<text x="569.21" y="351.05" font-size="12" text-anchor="middle" fill="#fff" stroke="#fff">33</text>
<text x="592.93" y="351.05" font-size="12" text-anchor="middle" fill="#000" stroke="#000">28</text>
<text x="616.64" y="351.05" font-size="12" text-anchor="middle" fill="#000" stroke="#000">19</text>
<text x="474.36" y="367.75" font-size="12" text-anchor="middle" fill="#000" stroke="#000">24</text>
<text x="498.07" y="367.75" font-size="12" text-anchor="middle" fill="#000" stroke="#000">27</text>
<text x="521.79" y="367.75" font-size="12" text-anchor="middle" fill="#000" stroke="#000">26</text>
<text x="545.50" y="367.75" font-size="12" text-anchor="middle" fill="#000" stroke="#000">23</text>
<text x="569.21" y="367.75" font-size="12" text-anchor="middle" fill="#fff" stroke="#fff">34</text>
<text x="592.93" y="367.75" font-size="12" text-anchor="middle" fill="#fff" stroke="#fff">29</text>
<text x="616.64" y="367.75" font-size="12" text-anchor="middle" fill="#000" stroke="#000">18</text>
<text x="458.80" y="252.65" font-size="12.5" text-anchor="end" fill="#000" stroke="#000">Day 3</text>
<text x="458.80" y="267.55" font-size="12.5" text-anchor="end" fill="#000" stroke="#000">Day 5</text>
<text x="458.80" y="284.25" font-size="12.5" text-anchor="end" fill="#000" stroke="#000">Day 7</text>
<text x="458.80" y="302.45" font-size="12.5" text-anchor="end" fill="#000" stroke="#000">Day 9</text>
<text x="458.80" y="318.15" font-size="12.5" text-anchor="end" fill="#000" stroke="#000">Day 11</text>
<text x="458.80" y="334.85" font-size="12.5" text-anchor="end" fill="#000" stroke="#000">Day 13</text>
<text x="458.80" y="352.85" font-size="12.5" text-anchor="end" fill="#000" stroke="#000">Day 15</text>
<text x="458.80" y="368.25" font-size="12.5" text-anchor="end" fill="#000" stroke="#000">Day 17</text>
<text x="505.00" y="231.30" font-size="12.5" fill="#000" stroke="#000">Fold expansion</text>
<line x1="474.36" y1="371.80" x2="474.36" y2="375.80" stroke="#888" stroke-width="0.8" />
<text x="478.66" y="380.00" font-size="12.5" text-anchor="end" fill="#000" stroke="#000" transform="rotate(-90 478.66 380.00)">Vector</text>
<line x1="498.07" y1="371.80" x2="498.07" y2="375.80" stroke="#888" stroke-width="0.8" />
<text x="502.37" y="380.00" font-size="12.5" text-anchor="end" fill="#000" stroke="#000" transform="rotate(-90 502.37 380.00)">m19</text>
<line x1="521.79" y1="371.80" x2="521.79" y2="375.80" stroke="#888" stroke-width="0.8" />
<text x="526.09" y="380.00" font-size="12.5" text-anchor="end" fill="#000" stroke="#000" transform="rotate(-90 526.09 380.00)">m20</text>
<line x1="545.50" y1="371.80" x2="545.50" y2="375.80" stroke="#888" stroke-width="0.8" />
<text x="549.80" y="380.00" font-size="12.5" text-anchor="end" fill="#000" stroke="#000" transform="rotate(-90 549.80 380.00)">m22</text>
<line x1="569.21" y1="371.80" x2="569.21" y2="375.80" stroke="#888" stroke-width="0.8" />
<text x="573.51" y="380.00" font-size="12.5" text-anchor="end" fill="#000" stroke="#000" transform="rotate(-90 573.51 380.00)">b20/19</text>
<line x1="592.93" y1="371.80" x2="592.93" y2="375.80" stroke="#888" stroke-width="0.8" />
<text x="597.23" y="380.00" font-size="12.5" text-anchor="end" fill="#000" stroke="#000" transform="rotate(-90 597.23 380.00)">b22/19</text>
<line x1="616.64" y1="371.80" x2="616.64" y2="375.80" stroke="#888" stroke-width="0.8" />
<text x="620.94" y="380.00" font-size="12.5" text-anchor="end" fill="#000" stroke="#000" transform="rotate(-90 620.94 380.00)">t20/22/19</text>
<defs><linearGradient id="cb" x1="0" y1="1" x2="0" y2="0"><stop offset="0.0000" stop-color="#ff2812"/><stop offset="0.0690" stop-color="#f64238"/><stop offset="0.1379" stop-color="#f06464"/><stop offset="0.2414" stop-color="#ec8c8e"/><stop offset="0.3103" stop-color="#eea8aa"/><stop offset="0.3793" stop-color="#f4c8cb"/><stop offset="0.4483" stop-color="#fae6e8"/><stop offset="0.5172" stop-color="#ffffff"/><stop offset="1" stop-color="#1c1cfc"/></linearGradient></defs>
<rect x="634.00" y="238.10" width="10.80" height="135.50" fill="url(#cb)" />
<line x1="644.80" y1="257.40" x2="646.60" y2="257.40" stroke="#555" stroke-width="0.8" />
<line x1="634.00" y1="257.40" x2="635.80" y2="257.40" stroke="#555" stroke-width="0.6" />
<text x="647.60" y="261.20" font-size="10.9" fill="#000" stroke="#000">30</text>
<line x1="644.80" y1="304.20" x2="646.60" y2="304.20" stroke="#555" stroke-width="0.8" />
<line x1="634.00" y1="304.20" x2="635.80" y2="304.20" stroke="#555" stroke-width="0.6" />
<text x="647.60" y="308.00" font-size="10.9" fill="#000" stroke="#000">20</text>
<line x1="644.80" y1="350.80" x2="646.60" y2="350.80" stroke="#555" stroke-width="0.8" />
<line x1="634.00" y1="350.80" x2="635.80" y2="350.80" stroke="#555" stroke-width="0.6" />
<text x="647.60" y="354.60" font-size="10.9" fill="#000" stroke="#000">10</text>
<text x="40.60" y="511.80" font-size="12.2" fill="#000" stroke="#000">Raji<tspan font-size="8.6" dy="-4.60">WT</tspan></text>
<line x1="100.00" y1="492.70" x2="96.72" y2="487.67" stroke="#4f2f80" stroke-width="1.3" />
<rect x="85.51" y="478.70" width="14.50" height="5.80" rx="2.90" fill="#7d52ad" stroke="#4f2f80" stroke-width="0.7" transform="rotate(-123.1 92.76 481.60)"/>
<line x1="108.80" y1="490.00" x2="108.80" y2="483.00" stroke="#c01818" stroke-width="1.3" />
<rect x="101.05" y="472.35" width="15.50" height="5.80" rx="2.90" fill="#ec2d2d" stroke="#c01818" stroke-width="0.7" transform="rotate(-90.0 108.80 475.25)"/>
<line x1="118.30" y1="492.70" x2="121.77" y2="487.80" stroke="#a88a20" stroke-width="1.3" />
<rect x="118.70" y="478.98" width="14.50" height="5.80" rx="2.90" fill="#d9b43a" stroke="#a88a20" stroke-width="0.7" transform="rotate(-54.7 125.95 481.88)"/>
<path d="M125.45,505.13 Q125.82,506.70 125.22,508.23 Q124.63,509.75 124.61,511.38 Q124.60,513.01 123.68,514.33 Q122.76,515.65 121.94,517.02 Q121.12,518.39 119.60,519.02 Q118.08,519.65 117.04,520.91 Q116.00,522.17 114.39,522.29 Q112.77,522.41 111.30,522.84 Q109.84,523.27 108.27,523.64 Q106.70,524.01 105.12,523.70 Q103.55,523.39 102.30,522.33 Q101.05,521.26 99.76,520.50 Q98.46,519.73 97.24,518.82 Q96.01,517.90 95.00,516.73 Q93.99,515.56 93.40,514.13 Q92.82,512.70 92.61,511.18 Q92.41,509.67 92.17,508.19 Q91.92,506.70 91.67,505.12 Q91.41,503.54 91.71,501.97 Q92.01,500.39 93.34,499.33 Q94.67,498.26 95.24,496.79 Q95.81,495.31 96.86,494.13 Q97.92,492.95 99.54,492.65 Q101.16,492.36 102.35,491.18 Q103.55,489.99 105.18,490.30 Q106.81,490.61 108.34,490.21 Q109.87,489.81 111.39,490.13 Q112.92,490.46 114.40,490.97 Q115.88,491.47 117.06,492.51 Q118.23,493.55 119.42,494.51 Q120.62,495.47 121.66,496.63 Q122.70,497.78 123.28,499.23 Q123.85,500.68 124.46,502.12 Q125.08,503.56 125.45,505.13Z" fill="#f7b77a" stroke="#ec9a58" stroke-width="0.7"/>
<circle cx="96.02" cy="510.96" r="0.72" fill="#fbe08a" opacity="0.30"/>
<circle cx="96.16" cy="507.50" r="1.46" fill="#fbe08a" opacity="0.34"/>
<circle cx="96.77" cy="509.79" r="1.17" fill="#fbe08a" opacity="0.18"/>
<circle cx="117.27" cy="516.06" r="0.79" fill="#fbe08a" opacity="0.26"/>
<circle cx="96.96" cy="505.97" r="1.34" fill="#fbe08a" opacity="0.17"/>
<circle cx="106.81" cy="492.39" r="1.21" fill="#fbe08a" opacity="0.16"/>
<circle cx="95.55" cy="506.39" r="1.65" fill="#fbe08a" opacity="0.18"/>
<circle cx="117.82" cy="494.75" r="1.43" fill="#fbe08a" opacity="0.35"/>
<circle cx="113.57" cy="520.98" r="1.19" fill="#fbe08a" opacity="0.39"/>
<circle cx="118.56" cy="500.72" r="1.49" fill="#fbe08a" opacity="0.38"/>
<circle cx="119.88" cy="511.76" r="1.46" fill="#fbe08a" opacity="0.19"/>
<circle cx="118.11" cy="499.24" r="1.52" fill="#fbe08a" opacity="0.19"/>
<circle cx="93.33" cy="506.49" r="0.91" fill="#fbe08a" opacity="0.22"/>
<circle cx="95.80" cy="506.23" r="0.74" fill="#fbe08a" opacity="0.20"/>
<circle cx="116.26" cy="519.46" r="1.38" fill="#fbe08a" opacity="0.37"/>
<circle cx="115.35" cy="519.28" r="0.82" fill="#fbe08a" opacity="0.28"/>
<circle cx="100.00" cy="497.12" r="1.57" fill="#fbe08a" opacity="0.29"/>
<circle cx="95.32" cy="499.56" r="0.80" fill="#fbe08a" opacity="0.40"/>
<circle cx="99.51" cy="497.37" r="1.50" fill="#fbe08a" opacity="0.22"/>
<circle cx="121.84" cy="505.89" r="1.06" fill="#fbe08a" opacity="0.34"/>
<circle cx="97.15" cy="510.93" r="1.44" fill="#fbe08a" opacity="0.16"/>
<circle cx="113.50" cy="495.62" r="1.34" fill="#fbe08a" opacity="0.40"/>
<circle cx="96.36" cy="499.55" r="1.01" fill="#fbe08a" opacity="0.15"/>
<circle cx="119.85" cy="509.19" r="1.32" fill="#fbe08a" opacity="0.26"/>
<circle cx="93.48" cy="505.52" r="0.83" fill="#fbe08a" opacity="0.21"/>
<circle cx="101.84" cy="497.44" r="0.70" fill="#fbe08a" opacity="0.24"/>
<circle cx="118.53" cy="514.78" r="0.73" fill="#ec9a58" opacity="0.35"/>
<circle cx="96.16" cy="499.66" r="0.72" fill="#ec9a58" opacity="0.35"/>
<circle cx="98.66" cy="497.19" r="0.68" fill="#ec9a58" opacity="0.35"/>
<circle cx="119.86" cy="501.83" r="0.69" fill="#ec9a58" opacity="0.35"/>
<circle cx="120.04" cy="514.77" r="1.12" fill="#ec9a58" opacity="0.35"/>
<circle cx="110.95" cy="493.74" r="0.76" fill="#ec9a58" opacity="0.35"/>
<circle cx="122.54" cy="507.73" r="0.94" fill="#ec9a58" opacity="0.35"/>
<circle cx="99.88" cy="518.23" r="0.87" fill="#ec9a58" opacity="0.35"/>
<circle cx="121.83" cy="501.06" r="0.75" fill="#ec9a58" opacity="0.35"/>
<circle cx="117.91" cy="500.04" r="0.92" fill="#ec9a58" opacity="0.35"/>
<path d="M118.41,505.12 Q118.51,506.70 118.18,508.20 Q117.86,509.71 117.10,511.01 Q116.33,512.32 115.49,513.67 Q114.64,515.02 113.09,515.38 Q111.54,515.75 110.07,516.25 Q108.60,516.75 106.99,516.69 Q105.37,516.63 104.15,515.57 Q102.93,514.50 101.84,513.45 Q100.75,512.40 99.87,511.11 Q98.99,509.82 98.79,508.26 Q98.59,506.70 98.77,505.13 Q98.95,503.57 99.61,502.10 Q100.26,500.64 101.58,499.76 Q102.91,498.87 104.24,498.12 Q105.57,497.37 107.08,497.14 Q108.60,496.90 110.08,497.26 Q111.55,497.62 113.13,497.96 Q114.71,498.29 115.81,499.48 Q116.92,500.66 117.62,502.10 Q118.32,503.54 118.41,505.12Z" fill="#f5841c"/>
<ellipse cx="104.80" cy="502.70" rx="3.80" ry="2.20" fill="#fff" opacity="0.15" transform="rotate(-35 104.80 502.70)"/>
<path d="M46.40,537.00 Q46.40,530.20 57.28,530.20 L97.97,530.20 Q108.85,530.20 108.85,523.00 Q108.85,530.20 119.73,530.20 L160.42,530.20 Q171.30,530.20 171.30,537.00" stroke="#888" stroke-width="1" fill="none" />
<line x1="56.90" y1="560.50" x2="56.90" y2="552.50" stroke="#c01818" stroke-width="1.3" />
<rect x="49.65" y="542.35" width="14.50" height="5.80" rx="2.90" fill="#ec2d2d" stroke="#c01818" stroke-width="0.7" transform="rotate(-90.0 56.90 545.25)"/>
<line x1="67.40" y1="562.80" x2="70.88" y2="557.31" stroke="#a88a20" stroke-width="1.3" />
<rect x="67.74" y="548.71" width="13.50" height="5.80" rx="2.90" fill="#d9b43a" stroke="#a88a20" stroke-width="0.7" transform="rotate(-57.6 74.49 551.61)"/>
<path d="M73.38,576.45 Q73.25,578.00 73.82,579.63 Q74.39,581.27 73.86,582.82 Q73.33,584.37 72.40,585.69 Q71.47,587.02 70.70,588.45 Q69.92,589.87 68.57,590.76 Q67.22,591.66 65.79,592.32 Q64.36,592.97 62.89,593.43 Q61.42,593.89 59.93,594.28 Q58.44,594.67 56.92,594.50 Q55.39,594.34 53.83,594.30 Q52.27,594.27 50.66,594.03 Q49.04,593.78 47.69,592.89 Q46.33,591.99 45.04,590.99 Q43.75,589.99 42.86,588.62 Q41.97,587.25 41.60,585.66 Q41.24,584.07 40.57,582.62 Q39.90,581.18 39.86,579.59 Q39.81,578.00 39.66,576.37 Q39.51,574.75 40.16,573.26 Q40.82,571.77 41.72,570.47 Q42.62,569.16 43.31,567.70 Q44.01,566.25 45.03,564.94 Q46.05,563.64 47.75,563.34 Q49.45,563.04 50.73,561.93 Q52.01,560.83 53.70,561.27 Q55.39,561.70 56.92,561.49 Q58.45,561.28 59.97,561.59 Q61.48,561.89 63.12,562.06 Q64.75,562.23 66.24,562.95 Q67.73,563.66 68.83,564.90 Q69.92,566.13 70.60,567.61 Q71.27,569.10 72.41,570.33 Q73.55,571.55 73.53,573.22 Q73.52,574.89 73.38,576.45Z" fill="#bc8486" stroke="#8c5558" stroke-width="0.7"/>
<circle cx="57.94" cy="593.25" r="1.33" fill="#f0d0d0" opacity="0.32"/>
<circle cx="48.98" cy="564.56" r="1.17" fill="#f0d0d0" opacity="0.36"/>
<circle cx="52.03" cy="563.75" r="1.14" fill="#f0d0d0" opacity="0.33"/>
<circle cx="45.52" cy="572.62" r="0.91" fill="#f0d0d0" opacity="0.31"/>
<circle cx="70.41" cy="585.18" r="0.84" fill="#f0d0d0" opacity="0.16"/>
<circle cx="68.95" cy="587.55" r="1.04" fill="#f0d0d0" opacity="0.19"/>
<circle cx="68.10" cy="580.04" r="1.39" fill="#f0d0d0" opacity="0.31"/>
<circle cx="52.16" cy="564.28" r="0.77" fill="#f0d0d0" opacity="0.30"/>
<circle cx="47.17" cy="589.26" r="1.52" fill="#f0d0d0" opacity="0.37"/>
<circle cx="70.73" cy="584.08" r="1.61" fill="#f0d0d0" opacity="0.39"/>
<circle cx="66.38" cy="585.56" r="0.81" fill="#f0d0d0" opacity="0.16"/>
<circle cx="65.46" cy="565.86" r="1.33" fill="#f0d0d0" opacity="0.36"/>
<circle cx="48.44" cy="568.81" r="0.80" fill="#f0d0d0" opacity="0.17"/>
<circle cx="57.46" cy="565.89" r="1.02" fill="#f0d0d0" opacity="0.26"/>
<circle cx="69.15" cy="579.62" r="0.98" fill="#f0d0d0" opacity="0.33"/>
<circle cx="48.36" cy="587.32" r="1.66" fill="#f0d0d0" opacity="0.28"/>
<circle cx="65.22" cy="566.76" r="0.73" fill="#f0d0d0" opacity="0.25"/>
<circle cx="43.38" cy="583.71" r="1.05" fill="#f0d0d0" opacity="0.33"/>
<circle cx="45.07" cy="575.13" r="1.56" fill="#f0d0d0" opacity="0.17"/>
<circle cx="61.98" cy="567.17" r="0.70" fill="#f0d0d0" opacity="0.20"/>
<circle cx="58.09" cy="562.45" r="0.70" fill="#f0d0d0" opacity="0.27"/>
<circle cx="42.14" cy="578.79" r="0.88" fill="#f0d0d0" opacity="0.27"/>
<circle cx="48.33" cy="590.24" r="0.96" fill="#f0d0d0" opacity="0.39"/>
<circle cx="54.34" cy="589.89" r="1.40" fill="#f0d0d0" opacity="0.27"/>
<circle cx="67.74" cy="586.96" r="0.78" fill="#f0d0d0" opacity="0.35"/>
<circle cx="52.10" cy="564.06" r="1.33" fill="#f0d0d0" opacity="0.24"/>
<circle cx="46.03" cy="585.76" r="1.13" fill="#8c5558" opacity="0.35"/>
<circle cx="70.33" cy="586.08" r="0.62" fill="#8c5558" opacity="0.35"/>
<circle cx="60.37" cy="590.26" r="1.14" fill="#8c5558" opacity="0.35"/>
<circle cx="43.62" cy="577.90" r="1.13" fill="#8c5558" opacity="0.35"/>
<circle cx="58.31" cy="591.59" r="0.92" fill="#8c5558" opacity="0.35"/>
<circle cx="57.32" cy="562.97" r="0.99" fill="#8c5558" opacity="0.35"/>
<circle cx="49.34" cy="588.62" r="0.69" fill="#8c5558" opacity="0.35"/>
<circle cx="64.97" cy="565.82" r="1.05" fill="#8c5558" opacity="0.35"/>
<circle cx="63.47" cy="589.87" r="1.06" fill="#8c5558" opacity="0.35"/>
<circle cx="46.27" cy="572.23" r="0.88" fill="#8c5558" opacity="0.35"/>
<path d="M67.09,576.47 Q67.59,578.00 67.02,579.50 Q66.46,581.01 65.75,582.35 Q65.04,583.70 64.00,584.81 Q62.96,585.93 61.66,586.82 Q60.35,587.70 58.78,588.02 Q57.20,588.34 55.71,587.76 Q54.22,587.18 52.87,586.50 Q51.52,585.81 50.42,584.77 Q49.31,583.73 48.58,582.38 Q47.85,581.04 47.52,579.52 Q47.18,578.00 47.59,576.51 Q48.01,575.01 48.63,573.62 Q49.25,572.22 50.38,571.19 Q51.50,570.16 52.73,569.10 Q53.96,568.04 55.58,567.90 Q57.20,567.77 58.68,568.32 Q60.17,568.87 61.76,569.20 Q63.35,569.54 64.16,570.95 Q64.97,572.36 65.78,573.65 Q66.60,574.95 67.09,576.47Z" fill="#741618"/>
<ellipse cx="53.40" cy="574.00" rx="3.80" ry="2.20" fill="#fff" opacity="0.15" transform="rotate(-35 53.40 574.00)"/>
<line x1="99.40" y1="564.00" x2="97.08" y2="557.93" stroke="#4f2f80" stroke-width="1.3" />
<rect x="87.92" y="548.72" width="13.50" height="5.80" rx="2.90" fill="#7d52ad" stroke="#4f2f80" stroke-width="0.7" transform="rotate(-110.9 94.67 551.62)"/>
<line x1="118.30" y1="564.00" x2="121.71" y2="558.47" stroke="#a88a20" stroke-width="1.3" />
<rect x="118.50" y="549.82" width="13.50" height="5.80" rx="2.90" fill="#d9b43a" stroke="#a88a20" stroke-width="0.7" transform="rotate(-58.4 125.25 552.72)"/>
<path d="M126.83,576.93 Q127.43,578.50 127.12,580.13 Q126.81,581.75 126.31,583.31 Q125.81,584.86 124.87,586.18 Q123.93,587.50 122.83,588.62 Q121.72,589.74 120.82,591.08 Q119.91,592.42 118.34,592.85 Q116.77,593.29 115.37,593.92 Q113.97,594.56 112.47,595.00 Q110.97,595.44 109.43,595.13 Q107.89,594.83 106.31,594.85 Q104.74,594.88 103.13,594.61 Q101.51,594.34 100.17,593.42 Q98.83,592.49 97.76,591.29 Q96.69,590.09 95.64,588.88 Q94.58,587.67 94.00,586.18 Q93.42,584.69 93.26,583.12 Q93.10,581.55 92.56,580.02 Q92.02,578.50 92.34,576.93 Q92.65,575.37 92.81,573.75 Q92.98,572.14 93.58,570.61 Q94.18,569.08 95.48,568.03 Q96.78,566.99 97.87,565.83 Q98.96,564.67 100.25,563.70 Q101.54,562.72 103.14,562.40 Q104.73,562.09 106.29,561.96 Q107.86,561.84 109.44,561.42 Q111.02,560.99 112.65,561.16 Q114.29,561.33 115.78,562.00 Q117.28,562.68 118.62,563.59 Q119.97,564.50 121.27,565.50 Q122.56,566.50 123.42,567.89 Q124.29,569.28 124.98,570.74 Q125.67,572.20 125.95,573.78 Q126.23,575.35 126.83,576.93Z" fill="#8c8cd6" stroke="#5656a8" stroke-width="0.7"/>
<circle cx="103.99" cy="591.44" r="0.80" fill="#d8d8f8" opacity="0.25"/>
<circle cx="112.31" cy="564.39" r="1.33" fill="#d8d8f8" opacity="0.21"/>
<circle cx="97.65" cy="584.62" r="1.32" fill="#d8d8f8" opacity="0.25"/>
<circle cx="102.44" cy="564.78" r="0.88" fill="#d8d8f8" opacity="0.31"/>
<circle cx="111.68" cy="565.75" r="1.19" fill="#d8d8f8" opacity="0.39"/>
<circle cx="122.66" cy="581.74" r="0.86" fill="#d8d8f8" opacity="0.35"/>
<circle cx="122.00" cy="573.56" r="0.80" fill="#d8d8f8" opacity="0.29"/>
<circle cx="95.45" cy="574.82" r="1.21" fill="#d8d8f8" opacity="0.31"/>
<circle cx="115.85" cy="566.59" r="1.11" fill="#d8d8f8" opacity="0.39"/>
<circle cx="112.94" cy="592.33" r="1.09" fill="#d8d8f8" opacity="0.34"/>
<circle cx="120.63" cy="589.37" r="1.06" fill="#d8d8f8" opacity="0.16"/>
<circle cx="107.42" cy="591.35" r="0.71" fill="#d8d8f8" opacity="0.25"/>
<circle cx="96.81" cy="585.37" r="1.05" fill="#d8d8f8" opacity="0.22"/>
<circle cx="111.73" cy="592.85" r="1.64" fill="#d8d8f8" opacity="0.28"/>
<circle cx="112.27" cy="593.03" r="1.09" fill="#d8d8f8" opacity="0.20"/>
<circle cx="119.51" cy="589.17" r="1.51" fill="#d8d8f8" opacity="0.31"/>
<circle cx="95.93" cy="581.14" r="0.93" fill="#d8d8f8" opacity="0.39"/>
<circle cx="100.90" cy="589.72" r="1.52" fill="#d8d8f8" opacity="0.35"/>
<circle cx="97.13" cy="580.99" r="1.25" fill="#d8d8f8" opacity="0.18"/>
<circle cx="115.83" cy="567.43" r="1.55" fill="#d8d8f8" opacity="0.22"/>
<circle cx="100.61" cy="587.16" r="1.13" fill="#d8d8f8" opacity="0.20"/>
<circle cx="123.85" cy="578.74" r="0.98" fill="#d8d8f8" opacity="0.21"/>
<circle cx="105.13" cy="591.16" r="1.13" fill="#d8d8f8" opacity="0.31"/>
<circle cx="102.47" cy="567.70" r="1.63" fill="#d8d8f8" opacity="0.36"/>
<circle cx="123.38" cy="583.74" r="1.61" fill="#d8d8f8" opacity="0.35"/>
<circle cx="118.89" cy="590.04" r="1.33" fill="#d8d8f8" opacity="0.15"/>
<circle cx="125.33" cy="579.65" r="0.99" fill="#5656a8" opacity="0.35"/>
<circle cx="109.40" cy="590.48" r="0.69" fill="#5656a8" opacity="0.35"/>
<circle cx="110.95" cy="593.57" r="0.81" fill="#5656a8" opacity="0.35"/>
<circle cx="118.44" cy="591.39" r="1.08" fill="#5656a8" opacity="0.35"/>
<circle cx="117.14" cy="592.15" r="0.97" fill="#5656a8" opacity="0.35"/>
<circle cx="112.26" cy="564.14" r="1.14" fill="#5656a8" opacity="0.35"/>
<circle cx="113.06" cy="563.50" r="0.72" fill="#5656a8" opacity="0.35"/>
<circle cx="104.48" cy="565.40" r="1.05" fill="#5656a8" opacity="0.35"/>
<circle cx="94.90" cy="584.39" r="0.93" fill="#5656a8" opacity="0.35"/>
<circle cx="108.25" cy="591.05" r="0.68" fill="#5656a8" opacity="0.35"/>
<path d="M119.52,576.93 Q119.69,578.50 119.24,579.98 Q118.79,581.45 118.28,582.91 Q117.76,584.36 116.57,585.33 Q115.37,586.30 114.08,587.15 Q112.79,588.00 111.24,588.25 Q109.70,588.50 108.15,588.27 Q106.60,588.05 105.10,587.47 Q103.61,586.88 102.81,585.49 Q102.01,584.09 100.94,582.89 Q99.87,581.70 99.80,580.10 Q99.73,578.50 99.93,576.95 Q100.13,575.39 100.80,573.96 Q101.48,572.52 102.55,571.33 Q103.62,570.13 105.14,569.62 Q106.65,569.11 108.17,568.84 Q109.70,568.58 111.32,568.57 Q112.93,568.55 114.13,569.65 Q115.33,570.75 116.61,571.65 Q117.90,572.54 118.62,573.95 Q119.34,575.37 119.52,576.93Z" fill="#1c0f86"/>
<ellipse cx="105.90" cy="574.50" rx="3.80" ry="2.20" fill="#fff" opacity="0.15" transform="rotate(-35 105.90 574.50)"/>
<line x1="164.80" y1="564.00" x2="168.38" y2="558.58" stroke="#a88a20" stroke-width="1.3" />
<rect x="165.35" y="550.04" width="13.50" height="5.80" rx="2.90" fill="#d9b43a" stroke="#a88a20" stroke-width="0.7" transform="rotate(-56.6 172.10 552.94)"/>
<path d="M172.59,576.95 Q172.49,578.50 172.84,580.10 Q173.19,581.70 172.81,583.26 Q172.43,584.83 171.89,586.39 Q171.35,587.95 169.98,588.92 Q168.60,589.89 167.78,591.39 Q166.96,592.89 165.37,593.40 Q163.77,593.91 162.29,594.47 Q160.80,595.02 159.27,595.66 Q157.75,596.31 156.17,595.57 Q154.59,594.83 152.94,595.12 Q151.29,595.40 149.81,594.75 Q148.34,594.09 147.12,593.05 Q145.90,592.00 144.42,591.26 Q142.93,590.51 142.30,588.97 Q141.67,587.43 140.89,586.07 Q140.10,584.70 139.63,583.18 Q139.15,581.67 138.79,580.08 Q138.43,578.50 139.06,576.97 Q139.68,575.43 139.92,573.88 Q140.17,572.33 140.88,570.92 Q141.59,569.52 142.46,568.18 Q143.32,566.85 144.36,565.59 Q145.40,564.33 146.99,563.87 Q148.59,563.42 149.92,562.42 Q151.24,561.41 152.88,561.48 Q154.53,561.54 156.11,561.45 Q157.69,561.37 159.19,561.85 Q160.70,562.33 162.24,562.71 Q163.77,563.09 165.36,563.61 Q166.96,564.12 167.98,565.43 Q169.01,566.73 170.08,567.96 Q171.15,569.18 171.51,570.79 Q171.87,572.39 172.28,573.89 Q172.70,575.40 172.59,576.95Z" fill="#f6d88e" stroke="#dcb45c" stroke-width="0.7"/>
<circle cx="151.89" cy="591.68" r="1.33" fill="#fff4d0" opacity="0.35"/>
<circle cx="170.10" cy="582.10" r="1.59" fill="#fff4d0" opacity="0.29"/>
<circle cx="168.04" cy="582.36" r="0.71" fill="#fff4d0" opacity="0.20"/>
<circle cx="168.37" cy="571.89" r="1.36" fill="#fff4d0" opacity="0.35"/>
<circle cx="167.87" cy="571.01" r="1.32" fill="#fff4d0" opacity="0.31"/>
<circle cx="151.51" cy="565.40" r="1.38" fill="#fff4d0" opacity="0.20"/>
<circle cx="149.49" cy="567.00" r="1.46" fill="#fff4d0" opacity="0.18"/>
<circle cx="160.86" cy="588.82" r="1.47" fill="#fff4d0" opacity="0.38"/>
<circle cx="148.92" cy="567.83" r="1.52" fill="#fff4d0" opacity="0.35"/>
<circle cx="144.67" cy="573.80" r="1.00" fill="#fff4d0" opacity="0.26"/>
<circle cx="150.62" cy="590.44" r="1.34" fill="#fff4d0" opacity="0.38"/>
<circle cx="169.05" cy="583.13" r="0.74" fill="#fff4d0" opacity="0.18"/>
<circle cx="161.20" cy="565.69" r="1.62" fill="#fff4d0" opacity="0.26"/>
<circle cx="168.99" cy="579.65" r="1.29" fill="#fff4d0" opacity="0.38"/>
<circle cx="169.34" cy="576.89" r="1.11" fill="#fff4d0" opacity="0.18"/>
<circle cx="148.62" cy="568.92" r="0.85" fill="#fff4d0" opacity="0.15"/>
<circle cx="170.37" cy="578.93" r="0.82" fill="#fff4d0" opacity="0.39"/>
<circle cx="168.95" cy="586.45" r="0.83" fill="#fff4d0" opacity="0.15"/>
<circle cx="153.75" cy="566.44" r="1.43" fill="#fff4d0" opacity="0.20"/>
<circle cx="170.06" cy="583.05" r="1.41" fill="#fff4d0" opacity="0.36"/>
<circle cx="154.63" cy="567.01" r="1.33" fill="#fff4d0" opacity="0.33"/>
<circle cx="141.17" cy="582.27" r="0.95" fill="#fff4d0" opacity="0.39"/>
<circle cx="153.80" cy="567.49" r="0.71" fill="#fff4d0" opacity="0.31"/>
<circle cx="160.85" cy="567.96" r="1.01" fill="#fff4d0" opacity="0.33"/>
<circle cx="163.69" cy="591.52" r="1.19" fill="#fff4d0" opacity="0.16"/>
<circle cx="146.82" cy="588.69" r="1.14" fill="#fff4d0" opacity="0.32"/>
<circle cx="165.45" cy="590.54" r="0.82" fill="#dcb45c" opacity="0.35"/>
<circle cx="147.23" cy="567.08" r="0.85" fill="#dcb45c" opacity="0.35"/>
<circle cx="144.66" cy="588.50" r="1.17" fill="#dcb45c" opacity="0.35"/>
<circle cx="159.16" cy="564.67" r="0.78" fill="#dcb45c" opacity="0.35"/>
<circle cx="171.02" cy="584.48" r="1.02" fill="#dcb45c" opacity="0.35"/>
<circle cx="162.20" cy="566.95" r="0.96" fill="#dcb45c" opacity="0.35"/>
<circle cx="171.35" cy="576.32" r="0.96" fill="#dcb45c" opacity="0.35"/>
<circle cx="151.24" cy="591.11" r="1.13" fill="#dcb45c" opacity="0.35"/>
<circle cx="145.58" cy="588.80" r="0.96" fill="#dcb45c" opacity="0.35"/>
<circle cx="168.25" cy="569.21" r="0.77" fill="#dcb45c" opacity="0.35"/>
<path d="M166.05,576.91 Q165.90,578.50 165.79,580.01 Q165.69,581.52 165.06,582.92 Q164.43,584.33 163.38,585.50 Q162.33,586.66 160.96,587.49 Q159.59,588.31 157.99,588.60 Q156.40,588.89 154.93,588.23 Q153.45,587.58 151.89,587.22 Q150.33,586.86 149.19,585.71 Q148.06,584.56 147.30,583.13 Q146.54,581.70 146.43,580.10 Q146.33,578.50 146.72,576.99 Q147.10,575.48 147.57,573.95 Q148.03,572.42 149.18,571.29 Q150.34,570.16 151.80,569.49 Q153.25,568.81 154.83,568.45 Q156.40,568.09 157.92,568.61 Q159.44,569.14 160.74,569.94 Q162.03,570.75 163.28,571.67 Q164.53,572.59 165.36,573.95 Q166.19,575.32 166.05,576.91Z" fill="#ebab2e"/>
<ellipse cx="152.60" cy="574.50" rx="3.80" ry="2.20" fill="#fff" opacity="0.15" transform="rotate(-35 152.60 574.50)"/>
<text x="19.20" y="636.50" font-size="12.8" fill="#000" stroke="#000" transform="rotate(-24 19.20 636.50)">Raji<tspan font-size="8.6" dy="-4.80">CD19-/-</tspan></text>
<text x="64.40" y="640.20" font-size="12.8" fill="#000" stroke="#000" transform="rotate(-24 64.40 640.20)">Raji<tspan font-size="8.6" dy="-4.80">CD20-/-</tspan></text>
<text x="106.40" y="643.70" font-size="12.8" fill="#000" stroke="#000" transform="rotate(-24 106.40 643.70)">Raji<tspan font-size="8.6" dy="-4.80">CD19/20-/-</tspan></text>
<line x1="265.70" y1="498.34" x2="265.70" y2="630.10" stroke="#4a4a4a" stroke-width="1" />
<line x1="265.70" y1="630.10" x2="396.30" y2="630.10" stroke="#4a4a4a" stroke-width="1" />
<line x1="260.70" y1="630.10" x2="265.70" y2="630.10" stroke="#4a4a4a" stroke-width="1" />
<text x="0" y="0" font-size="13.6" transform="translate(258.90 634.90) scale(1 1.09)" text-anchor="end" fill="#000" stroke="#000">0</text>
<line x1="260.70" y1="586.18" x2="265.70" y2="586.18" stroke="#4a4a4a" stroke-width="1" />
<text x="0" y="0" font-size="13.6" transform="translate(258.90 590.98) scale(1 1.09)" text-anchor="end" fill="#000" stroke="#000">40</text>
<line x1="260.70" y1="542.26" x2="265.70" y2="542.26" stroke="#4a4a4a" stroke-width="1" />
<text x="0" y="0" font-size="13.6" transform="translate(258.90 547.06) scale(1 1.09)" text-anchor="end" fill="#000" stroke="#000">80</text>
<line x1="260.70" y1="498.34" x2="265.70" y2="498.34" stroke="#4a4a4a" stroke-width="1" />
<text x="0" y="0" font-size="13.6" transform="translate(258.90 503.14) scale(1 1.09)" text-anchor="end" fill="#000" stroke="#000">120</text>
<line x1="282.20" y1="630.10" x2="282.20" y2="633.60" stroke="#4a4a4a" stroke-width="1" />
<text x="282.20" y="648.90" font-size="14.2" text-anchor="middle" fill="#000" stroke="#000">1:1</text>
<line x1="315.00" y1="630.10" x2="315.00" y2="633.60" stroke="#4a4a4a" stroke-width="1" />
<text x="315.00" y="648.90" font-size="14.2" text-anchor="middle" fill="#000" stroke="#000">1:2.5</text>
<line x1="348.10" y1="630.10" x2="348.10" y2="633.60" stroke="#4a4a4a" stroke-width="1" />
<text x="348.10" y="648.90" font-size="14.2" text-anchor="middle" fill="#000" stroke="#000">1:5</text>
<line x1="380.70" y1="630.10" x2="380.70" y2="633.60" stroke="#4a4a4a" stroke-width="1" />
<text x="380.70" y="648.90" font-size="14.2" text-anchor="middle" fill="#000" stroke="#000">1:10</text>
<text x="332.00" y="667.90" font-size="14.2" text-anchor="middle" fill="#000" stroke="#000">T:E cell ratio</text>
<text x="235.70" y="567.02" font-size="14.2" text-anchor="middle" fill="#000" stroke="#000" transform="rotate(-90 235.70 567.02)">% Cancer cell survival</text>
<line x1="282.20" y1="522.17" x2="282.20" y2="526.56" stroke="#666" stroke-width="0.8" />
<line x1="279.70" y1="522.17" x2="284.70" y2="522.17" stroke="#666" stroke-width="0.8" />
<line x1="279.70" y1="526.56" x2="284.70" y2="526.56" stroke="#666" stroke-width="0.8" />
<line x1="315.00" y1="560.05" x2="315.00" y2="568.83" stroke="#666" stroke-width="0.8" />
<line x1="312.50" y1="560.05" x2="317.50" y2="560.05" stroke="#666" stroke-width="0.8" />
<line x1="312.50" y1="568.83" x2="317.50" y2="568.83" stroke="#666" stroke-width="0.8" />
<line x1="348.10" y1="590.35" x2="348.10" y2="599.14" stroke="#666" stroke-width="0.8" />
<line x1="345.60" y1="590.35" x2="350.60" y2="590.35" stroke="#666" stroke-width="0.8" />
<line x1="345.60" y1="599.14" x2="350.60" y2="599.14" stroke="#666" stroke-width="0.8" />
<line x1="380.70" y1="611.98" x2="380.70" y2="616.38" stroke="#666" stroke-width="0.8" />
<line x1="378.20" y1="611.98" x2="383.20" y2="611.98" stroke="#666" stroke-width="0.8" />
<line x1="378.20" y1="616.38" x2="383.20" y2="616.38" stroke="#666" stroke-width="0.8" />
<path d="M282.20,524.36 L315.00,564.44 L348.10,594.74 L380.70,614.18" stroke="#3a6db0" stroke-width="1.4" fill="none" />
<line x1="380.70" y1="531.61" x2="380.70" y2="536.00" stroke="#666" stroke-width="0.8" />
<line x1="378.20" y1="531.61" x2="383.20" y2="531.61" stroke="#666" stroke-width="0.8" />
<line x1="378.20" y1="536.00" x2="383.20" y2="536.00" stroke="#666" stroke-width="0.8" />
<path d="M282.20,524.14 L315.00,525.24 L348.10,531.28 L380.70,533.81" stroke="#f0cc66" stroke-width="1.4" fill="none" />
<path d="M282.20,521.73 L315.00,525.02 L348.10,526.89 L380.70,530.95" stroke="#a0622a" stroke-width="1.4" fill="none" />
<line x1="282.20" y1="536.00" x2="282.20" y2="540.39" stroke="#666" stroke-width="0.8" />
<line x1="279.70" y1="536.00" x2="284.70" y2="536.00" stroke="#666" stroke-width="0.8" />
<line x1="279.70" y1="540.39" x2="284.70" y2="540.39" stroke="#666" stroke-width="0.8" />
<line x1="315.00" y1="574.87" x2="315.00" y2="579.26" stroke="#666" stroke-width="0.8" />
<line x1="312.50" y1="574.87" x2="317.50" y2="574.87" stroke="#666" stroke-width="0.8" />
<line x1="312.50" y1="579.26" x2="317.50" y2="579.26" stroke="#666" stroke-width="0.8" />
<line x1="348.10" y1="593.98" x2="348.10" y2="607.15" stroke="#666" stroke-width="0.8" />
<line x1="345.60" y1="593.98" x2="350.60" y2="593.98" stroke="#666" stroke-width="0.8" />
<line x1="345.60" y1="607.15" x2="350.60" y2="607.15" stroke="#666" stroke-width="0.8" />
<line x1="380.70" y1="614.84" x2="380.70" y2="621.43" stroke="#666" stroke-width="0.8" />
<line x1="378.20" y1="614.84" x2="383.20" y2="614.84" stroke="#666" stroke-width="0.8" />
<line x1="378.20" y1="621.43" x2="383.20" y2="621.43" stroke="#666" stroke-width="0.8" />
<path d="M282.20,538.20 L315.00,577.07 L348.10,600.56 L380.70,618.13" stroke="#f08080" stroke-width="1.4" fill="none" />
<circle cx="282.20" cy="524.36" r="3.00" fill="#2a5d9c" stroke="#1a1a1a" stroke-width="0.9" />
<circle cx="315.00" cy="564.44" r="3.00" fill="#2a5d9c" stroke="#1a1a1a" stroke-width="0.9" />
<circle cx="348.10" cy="594.74" r="3.00" fill="#2a5d9c" stroke="#1a1a1a" stroke-width="0.9" />
<circle cx="380.70" cy="614.18" r="3.00" fill="#2a5d9c" stroke="#1a1a1a" stroke-width="0.9" />
<circle cx="282.20" cy="524.14" r="3.00" fill="#f4d276" stroke="#1a1a1a" stroke-width="0.9" />
<circle cx="315.00" cy="525.24" r="3.00" fill="#f4d276" stroke="#1a1a1a" stroke-width="0.9" />
<circle cx="348.10" cy="531.28" r="3.00" fill="#f4d276" stroke="#1a1a1a" stroke-width="0.9" />
<circle cx="380.70" cy="533.81" r="3.00" fill="#f4d276" stroke="#1a1a1a" stroke-width="0.9" />
<circle cx="282.20" cy="521.73" r="3.00" fill="#8b4a14" stroke="#1a1a1a" stroke-width="0.9" />
<circle cx="315.00" cy="525.02" r="3.00" fill="#8b4a14" stroke="#1a1a1a" stroke-width="0.9" />
<circle cx="348.10" cy="526.89" r="3.00" fill="#8b4a14" stroke="#1a1a1a" stroke-width="0.9" />
<circle cx="380.70" cy="530.95" r="3.00" fill="#8b4a14" stroke="#1a1a1a" stroke-width="0.9" />
<circle cx="282.20" cy="538.20" r="3.00" fill="#f08a8a" stroke="#1a1a1a" stroke-width="0.9" />
<circle cx="315.00" cy="577.07" r="3.00" fill="#f08a8a" stroke="#1a1a1a" stroke-width="0.9" />
<circle cx="348.10" cy="600.56" r="3.00" fill="#f08a8a" stroke="#1a1a1a" stroke-width="0.9" />
<circle cx="380.70" cy="618.13" r="3.00" fill="#f08a8a" stroke="#1a1a1a" stroke-width="0.9" />
<text x="281.70" y="618.10" font-size="13" fill="#000" stroke="#000">m19</text>
<line x1="277.80" y1="464.10" x2="289.50" y2="464.10" stroke="#f08080" stroke-width="1" />
<circle cx="283.80" cy="464.10" r="3.00" fill="#f08a8a" stroke="#222" stroke-width="0.8" />
<text x="296.50" y="471.20" font-size="14" fill="#000" stroke="#000">Raji<tspan font-size="10.4" dy="-5.50">WT</tspan></text>
<line x1="277.80" y1="478.80" x2="289.50" y2="478.80" stroke="#a0622a" stroke-width="1" />
<circle cx="283.80" cy="478.80" r="3.00" fill="#8b4a14" stroke="#222" stroke-width="0.8" />
<text x="296.50" y="485.90" font-size="14" fill="#000" stroke="#000">Raji<tspan font-size="10.4" dy="-5.50">CD19-/-</tspan></text>
<line x1="277.80" y1="493.50" x2="289.50" y2="493.50" stroke="#3a6db0" stroke-width="1" />
<circle cx="283.80" cy="493.50" r="3.00" fill="#2a5d9c" stroke="#222" stroke-width="0.8" />
<text x="296.50" y="500.60" font-size="14" fill="#000" stroke="#000">Raji<tspan font-size="10.4" dy="-5.50">CD20-/-</tspan></text>
<line x1="277.80" y1="508.20" x2="289.50" y2="508.20" stroke="#f0cc66" stroke-width="1" />
<circle cx="283.80" cy="508.20" r="3.00" fill="#f4d276" stroke="#222" stroke-width="0.8" />
<text x="296.50" y="515.30" font-size="14" fill="#000" stroke="#000">Raji<tspan font-size="10.4" dy="-5.50">CD19/20-/-</tspan></text>
<line x1="498.70" y1="498.80" x2="498.70" y2="632.30" stroke="#4a4a4a" stroke-width="1" />
<line x1="498.70" y1="632.30" x2="628.40" y2="632.30" stroke="#4a4a4a" stroke-width="1" />
<line x1="493.70" y1="632.30" x2="498.70" y2="632.30" stroke="#4a4a4a" stroke-width="1" />
<text x="0" y="0" font-size="13.6" transform="translate(491.90 637.10) scale(1 1.09)" text-anchor="end" fill="#000" stroke="#000">0</text>
<line x1="493.70" y1="587.80" x2="498.70" y2="587.80" stroke="#4a4a4a" stroke-width="1" />
<text x="0" y="0" font-size="13.6" transform="translate(491.90 592.60) scale(1 1.09)" text-anchor="end" fill="#000" stroke="#000">40</text>
<line x1="493.70" y1="543.30" x2="498.70" y2="543.30" stroke="#4a4a4a" stroke-width="1" />
<text x="0" y="0" font-size="13.6" transform="translate(491.90 548.10) scale(1 1.09)" text-anchor="end" fill="#000" stroke="#000">80</text>
<line x1="493.70" y1="498.80" x2="498.70" y2="498.80" stroke="#4a4a4a" stroke-width="1" />
<text x="0" y="0" font-size="13.6" transform="translate(491.90 503.60) scale(1 1.09)" text-anchor="end" fill="#000" stroke="#000">120</text>
<line x1="515.20" y1="632.30" x2="515.20" y2="635.80" stroke="#4a4a4a" stroke-width="1" />
<text x="515.20" y="651.10" font-size="14.2" text-anchor="middle" fill="#000" stroke="#000">1:1</text>
<line x1="548.50" y1="632.30" x2="548.50" y2="635.80" stroke="#4a4a4a" stroke-width="1" />
<text x="548.50" y="651.10" font-size="14.2" text-anchor="middle" fill="#000" stroke="#000">1:2.5</text>
<line x1="581.80" y1="632.30" x2="581.80" y2="635.80" stroke="#4a4a4a" stroke-width="1" />
<text x="581.80" y="651.10" font-size="14.2" text-anchor="middle" fill="#000" stroke="#000">1:5</text>
<line x1="615.30" y1="632.30" x2="615.30" y2="635.80" stroke="#4a4a4a" stroke-width="1" />
<text x="615.30" y="651.10" font-size="14.2" text-anchor="middle" fill="#000" stroke="#000">1:10</text>
<text x="571.35" y="669.70" font-size="14.6" text-anchor="middle" fill="#000" stroke="#000">T:E ratio</text>
<text x="469.60" y="568.35" font-size="14.2" text-anchor="middle" fill="#000" stroke="#000" transform="rotate(-90 469.60 568.35)">% Cancer cell survival</text>
<line x1="515.20" y1="532.62" x2="515.20" y2="541.52" stroke="#666" stroke-width="0.8" />
<line x1="512.70" y1="532.62" x2="517.70" y2="532.62" stroke="#666" stroke-width="0.8" />
<line x1="512.70" y1="541.52" x2="517.70" y2="541.52" stroke="#666" stroke-width="0.8" />
<line x1="548.50" y1="555.54" x2="548.50" y2="573.34" stroke="#666" stroke-width="0.8" />
<line x1="546.00" y1="555.54" x2="551.00" y2="555.54" stroke="#666" stroke-width="0.8" />
<line x1="546.00" y1="573.34" x2="551.00" y2="573.34" stroke="#666" stroke-width="0.8" />
<line x1="581.80" y1="584.02" x2="581.80" y2="599.59" stroke="#666" stroke-width="0.8" />
<line x1="579.30" y1="584.02" x2="584.30" y2="584.02" stroke="#666" stroke-width="0.8" />
<line x1="579.30" y1="599.59" x2="584.30" y2="599.59" stroke="#666" stroke-width="0.8" />
<line x1="615.30" y1="615.17" x2="615.30" y2="619.62" stroke="#666" stroke-width="0.8" />
<line x1="612.80" y1="615.17" x2="617.80" y2="615.17" stroke="#666" stroke-width="0.8" />
<line x1="612.80" y1="619.62" x2="617.80" y2="619.62" stroke="#666" stroke-width="0.8" />
<path d="M515.20,537.07 L548.50,564.44 L581.80,591.80 L615.30,617.39" stroke="#3a6db0" stroke-width="1.4" fill="none" />
<line x1="615.30" y1="534.40" x2="615.30" y2="541.07" stroke="#666" stroke-width="0.8" />
<line x1="612.80" y1="534.40" x2="617.80" y2="534.40" stroke="#666" stroke-width="0.8" />
<line x1="612.80" y1="541.07" x2="617.80" y2="541.07" stroke="#666" stroke-width="0.8" />
<path d="M515.20,526.06 L548.50,530.06 L581.80,530.84 L615.30,537.74" stroke="#f0cc66" stroke-width="1.4" fill="none" />
<line x1="515.20" y1="532.17" x2="515.20" y2="538.85" stroke="#666" stroke-width="0.8" />
<line x1="512.70" y1="532.17" x2="517.70" y2="532.17" stroke="#666" stroke-width="0.8" />
<line x1="512.70" y1="538.85" x2="517.70" y2="538.85" stroke="#666" stroke-width="0.8" />
<line x1="548.50" y1="551.75" x2="548.50" y2="569.55" stroke="#666" stroke-width="0.8" />
<line x1="546.00" y1="551.75" x2="551.00" y2="551.75" stroke="#666" stroke-width="0.8" />
<line x1="546.00" y1="569.55" x2="551.00" y2="569.55" stroke="#666" stroke-width="0.8" />
<line x1="581.80" y1="579.79" x2="581.80" y2="586.46" stroke="#666" stroke-width="0.8" />
<line x1="579.30" y1="579.79" x2="584.30" y2="579.79" stroke="#666" stroke-width="0.8" />
<line x1="579.30" y1="586.46" x2="584.30" y2="586.46" stroke="#666" stroke-width="0.8" />
<line x1="615.30" y1="614.39" x2="615.30" y2="618.84" stroke="#666" stroke-width="0.8" />
<line x1="612.80" y1="614.39" x2="617.80" y2="614.39" stroke="#666" stroke-width="0.8" />
<line x1="612.80" y1="618.84" x2="617.80" y2="618.84" stroke="#666" stroke-width="0.8" />
<path d="M515.20,535.51 L548.50,560.65 L581.80,583.13 L615.30,616.61" stroke="#a0622a" stroke-width="1.4" fill="none" />
<line x1="515.20" y1="545.30" x2="515.20" y2="551.98" stroke="#666" stroke-width="0.8" />
<line x1="512.70" y1="545.30" x2="517.70" y2="545.30" stroke="#666" stroke-width="0.8" />
<line x1="512.70" y1="551.98" x2="517.70" y2="551.98" stroke="#666" stroke-width="0.8" />
<line x1="548.50" y1="572.67" x2="548.50" y2="581.57" stroke="#666" stroke-width="0.8" />
<line x1="546.00" y1="572.67" x2="551.00" y2="572.67" stroke="#666" stroke-width="0.8" />
<line x1="546.00" y1="581.57" x2="551.00" y2="581.57" stroke="#666" stroke-width="0.8" />
<line x1="581.80" y1="600.93" x2="581.80" y2="609.83" stroke="#666" stroke-width="0.8" />
<line x1="579.30" y1="600.93" x2="584.30" y2="600.93" stroke="#666" stroke-width="0.8" />
<line x1="579.30" y1="609.83" x2="584.30" y2="609.83" stroke="#666" stroke-width="0.8" />
<line x1="615.30" y1="624.74" x2="615.30" y2="626.96" stroke="#666" stroke-width="0.8" />
<line x1="612.80" y1="624.74" x2="617.80" y2="624.74" stroke="#666" stroke-width="0.8" />
<line x1="612.80" y1="626.96" x2="617.80" y2="626.96" stroke="#666" stroke-width="0.8" />
<path d="M515.20,548.64 L548.50,577.12 L581.80,605.38 L615.30,625.85" stroke="#f08080" stroke-width="1.4" fill="none" />
<circle cx="515.20" cy="537.07" r="3.00" fill="#2a5d9c" stroke="#1a1a1a" stroke-width="0.9" />
<circle cx="548.50" cy="564.44" r="3.00" fill="#2a5d9c" stroke="#1a1a1a" stroke-width="0.9" />
<circle cx="581.80" cy="591.80" r="3.00" fill="#2a5d9c" stroke="#1a1a1a" stroke-width="0.9" />
<circle cx="615.30" cy="617.39" r="3.00" fill="#2a5d9c" stroke="#1a1a1a" stroke-width="0.9" />
<circle cx="515.20" cy="526.06" r="3.00" fill="#f4d276" stroke="#1a1a1a" stroke-width="0.9" />
<circle cx="548.50" cy="530.06" r="3.00" fill="#f4d276" stroke="#1a1a1a" stroke-width="0.9" />
<circle cx="581.80" cy="530.84" r="3.00" fill="#f4d276" stroke="#1a1a1a" stroke-width="0.9" />
<circle cx="615.30" cy="537.74" r="3.00" fill="#f4d276" stroke="#1a1a1a" stroke-width="0.9" />
<circle cx="515.20" cy="535.51" r="3.00" fill="#8b4a14" stroke="#1a1a1a" stroke-width="0.9" />
<circle cx="548.50" cy="560.65" r="3.00" fill="#8b4a14" stroke="#1a1a1a" stroke-width="0.9" />
<circle cx="581.80" cy="583.13" r="3.00" fill="#8b4a14" stroke="#1a1a1a" stroke-width="0.9" />
<circle cx="615.30" cy="616.61" r="3.00" fill="#8b4a14" stroke="#1a1a1a" stroke-width="0.9" />
<circle cx="515.20" cy="548.64" r="3.00" fill="#f08a8a" stroke="#1a1a1a" stroke-width="0.9" />
<circle cx="548.50" cy="577.12" r="3.00" fill="#f08a8a" stroke="#1a1a1a" stroke-width="0.9" />
<circle cx="581.80" cy="605.38" r="3.00" fill="#f08a8a" stroke="#1a1a1a" stroke-width="0.9" />
<circle cx="615.30" cy="625.85" r="3.00" fill="#f08a8a" stroke="#1a1a1a" stroke-width="0.9" />
<text x="506.50" y="619.20" font-size="13" fill="#000" stroke="#000">b20/19</text>
<line x1="517.80" y1="462.40" x2="529.50" y2="462.40" stroke="#f08080" stroke-width="1" />
<circle cx="523.50" cy="462.40" r="3.00" fill="#f08a8a" stroke="#222" stroke-width="0.8" />
<text x="535.80" y="469.50" font-size="14" fill="#000" stroke="#000">Raji<tspan font-size="10.4" dy="-5.50">WT</tspan></text>
<line x1="517.80" y1="477.07" x2="529.50" y2="477.07" stroke="#a0622a" stroke-width="1" />
<circle cx="523.50" cy="477.07" r="3.00" fill="#8b4a14" stroke="#222" stroke-width="0.8" />
<text x="535.80" y="484.17" font-size="14" fill="#000" stroke="#000">Raji<tspan font-size="10.4" dy="-5.50">CD19-/-</tspan></text>
<line x1="517.80" y1="491.74" x2="529.50" y2="491.74" stroke="#3a6db0" stroke-width="1" />
<circle cx="523.50" cy="491.74" r="3.00" fill="#2a5d9c" stroke="#222" stroke-width="0.8" />
<text x="535.80" y="498.84" font-size="14" fill="#000" stroke="#000">Raji<tspan font-size="10.4" dy="-5.50">CD20-/-</tspan></text>
<line x1="517.80" y1="506.41" x2="529.50" y2="506.41" stroke="#f0cc66" stroke-width="1" />
<circle cx="523.50" cy="506.41" r="3.00" fill="#f4d276" stroke="#222" stroke-width="0.8" />
<text x="535.80" y="513.51" font-size="14" fill="#000" stroke="#000">Raji<tspan font-size="10.4" dy="-5.50">CD19/20-/-</tspan></text>
<defs><radialGradient id="gg" cx="0.4" cy="0.35" r="0.7"><stop offset="0" stop-color="#e2e2e2"/><stop offset="1" stop-color="#8e8e8e"/></radialGradient></defs>
<line x1="40.20" y1="757.40" x2="326.00" y2="757.40" stroke="#8c8c8c" stroke-width="3.2" />
<circle cx="40.20" cy="757.40" r="5.60" fill="url(#gg)" />
<circle cx="88.80" cy="757.40" r="5.60" fill="url(#gg)" />
<circle cx="145.60" cy="757.40" r="6.60" fill="#f27f7f" />
<rect x="176.20" y="751.10" width="7.50" height="12.40" fill="#000" />
<rect x="207.70" y="751.10" width="7.70" height="12.40" fill="#000" />
<rect x="244.00" y="751.10" width="7.90" height="12.40" fill="#000" />
<rect x="277.50" y="751.10" width="7.90" height="12.40" fill="#000" />
<rect x="315.90" y="751.10" width="8.00" height="12.40" fill="#000" />
<circle cx="189.90" cy="757.80" r="5.60" fill="#8e1d5a" />
<circle cx="221.60" cy="757.80" r="5.60" fill="#8e1d5a" />
<circle cx="257.40" cy="759.00" r="5.60" fill="#8e1d5a" />
<circle cx="291.10" cy="757.30" r="5.60" fill="#8e1d5a" />
<circle cx="329.30" cy="757.30" r="5.60" fill="#8e1d5a" />
<text x="68.00" y="745.50" font-size="10.3" text-anchor="middle" fill="#000" stroke="#000">Day 0</text>
<text x="146.50" y="745.50" font-size="10.3" text-anchor="middle" fill="#000" stroke="#000">Day 7</text>
<text x="182.40" y="745.50" font-size="10.3" text-anchor="middle" fill="#000" stroke="#000">9</text>
<text x="211.40" y="745.50" font-size="10.3" text-anchor="middle" fill="#000" stroke="#000">11</text>
<text x="245.70" y="745.50" font-size="10.3" text-anchor="middle" fill="#000" stroke="#000">13</text>
<text x="274.70" y="745.50" font-size="10.3" text-anchor="middle" fill="#000" stroke="#000">15</text>
<text x="315.20" y="745.50" font-size="10.3" text-anchor="middle" fill="#000" stroke="#000">17</text>
<text x="20.80" y="775.40" font-size="10.3" fill="#000" stroke="#000">T cell</text>
<text x="20.80" y="787.60" font-size="10.3" fill="#000" stroke="#000">isolation</text>
<text x="58.80" y="773.20" font-size="10.3" fill="#000" stroke="#000">transduction</text>
<text x="65.20" y="785.70" font-size="10.3" fill="#000" stroke="#000">activation</text>
<rect x="122.00" y="766.30" width="52.80" height="21.30" fill="#fff" stroke="#f08a8a" stroke-width="1" />
<text x="146" y="780.2" font-size="10.5" text-anchor="middle" fill="#ee7777" stroke="#ee7777">Raji<tspan font-size="7.5" dy="-3.6">WT</tspan></text>
<path d="M324.4,765.7 L184,765.7 L184,787" stroke="#a04a80" stroke-width="1" fill="none" />
<path d="M180.2,786 L187.8,786 L184,793 Z" fill="#8e1d5a"/>
<rect x="121.40" y="794.20" width="93.00" height="39.00" fill="#fff" stroke="#d0a0bd" stroke-width="0.9" rx="6" />
<text x="167.70" y="805.50" font-size="10.5" text-anchor="middle" fill="#000" stroke="#000">Tumor</text>
<text x="167.70" y="818.20" font-size="10.5" text-anchor="middle" fill="#000" stroke="#000">rechallenge</text>
<text x="167.7" y="830.9" font-size="10.5" text-anchor="middle" fill="#000" stroke="#000">with <tspan fill="#8e1d5a" stroke="#8e1d5a">Raji</tspan><tspan fill="#8e1d5a" stroke="#8e1d5a" font-size="7.5" dy="-3.6">CD19-/-</tspan></text>
<text x="260.70" y="785.30" font-size="10.3" fill="#000" stroke="#000" font-weight="bold" font-style="italic">In vitro assays</text>
<rect x="218.90" y="794.20" width="138.90" height="40.90" fill="#fff" stroke="#666" stroke-width="0.9" rx="6" />
<text x="231.40" y="805.60" font-size="9" text-anchor="middle" fill="#000" stroke="#000">•</text>
<text x="258.80" y="805.60" font-size="10.5" fill="#000" stroke="#000">Function (IFN-γ)</text>
<text x="231.40" y="818.40" font-size="9" text-anchor="middle" fill="#000" stroke="#000">•</text>
<text x="258.80" y="818.40" font-size="10.5" fill="#000" stroke="#000">Anti-tumor</text>
<text x="231.40" y="831.20" font-size="9" text-anchor="middle" fill="#000" stroke="#000">•</text>
<text x="258.80" y="831.20" font-size="10.5" fill="#000" stroke="#000">Persistence</text>
<rect x="439.10" y="751.10" width="34.60" height="29.20" fill="#f3dea1" />
<rect x="473.70" y="751.10" width="35.20" height="29.20" fill="#efd385" />
<rect x="508.90" y="751.10" width="34.60" height="29.20" fill="#ecd387" />
<rect x="543.50" y="751.10" width="35.30" height="29.20" fill="#ecd182" />
<rect x="578.80" y="751.10" width="34.90" height="29.20" fill="#84c0f6" />
<rect x="613.70" y="751.10" width="35.20" height="29.20" fill="#b5dafa" />
<rect x="439.10" y="780.30" width="34.60" height="30.20" fill="#4da1f4" />
<rect x="473.70" y="780.30" width="35.20" height="30.20" fill="#f2dd9f" />
<rect x="508.90" y="780.30" width="34.60" height="30.20" fill="#4da1f4" />
<rect x="543.50" y="780.30" width="35.30" height="30.20" fill="#ecd184" />
<rect x="578.80" y="780.30" width="34.90" height="30.20" fill="#9ccdf8" />
<rect x="613.70" y="780.30" width="35.20" height="30.20" fill="#e4f0fc" />
<rect x="439.10" y="810.50" width="34.60" height="29.60" fill="#4da1f4" />
<rect x="473.70" y="810.50" width="35.20" height="29.60" fill="#f5e6b8" />
<rect x="508.90" y="810.50" width="34.60" height="29.60" fill="#4da1f4" />
<rect x="543.50" y="810.50" width="35.30" height="29.60" fill="#ebd085" />
<rect x="578.80" y="810.50" width="34.90" height="29.60" fill="#72b6f5" />
<rect x="613.70" y="810.50" width="35.20" height="29.60" fill="#f8f1dc" />
<rect x="439.10" y="840.10" width="34.60" height="29.90" fill="#4da1f4" />
<rect x="473.70" y="840.10" width="35.20" height="29.90" fill="#fdfbee" />
<rect x="508.90" y="840.10" width="34.60" height="29.90" fill="#4da1f4" />
<rect x="543.50" y="840.10" width="35.30" height="29.90" fill="#e6cd8c" />
<rect x="578.80" y="840.10" width="34.90" height="29.90" fill="#52a5f4" />
<rect x="613.70" y="840.10" width="35.20" height="29.90" fill="#efd485" />
<rect x="439.10" y="870.00" width="34.60" height="29.50" fill="#4da1f4" />
<rect x="473.70" y="870.00" width="35.20" height="29.50" fill="#edf4fc" />
<rect x="508.90" y="870.00" width="34.60" height="29.50" fill="#4da1f4" />
<rect x="543.50" y="870.00" width="35.30" height="29.50" fill="#e2cb8f" />
<rect x="578.80" y="870.00" width="34.90" height="29.50" fill="#4ea2f4" />
<rect x="613.70" y="870.00" width="35.20" height="29.50" fill="#f0d88f" />
<line x1="439.10" y1="751.10" x2="648.90" y2="751.10" stroke="#3c3c3c" stroke-width="0.8" />
<line x1="439.10" y1="780.30" x2="648.90" y2="780.30" stroke="#3c3c3c" stroke-width="0.8" />
<line x1="439.10" y1="810.50" x2="648.90" y2="810.50" stroke="#3c3c3c" stroke-width="0.8" />
<line x1="439.10" y1="840.10" x2="648.90" y2="840.10" stroke="#3c3c3c" stroke-width="0.8" />
<line x1="439.10" y1="870.00" x2="648.90" y2="870.00" stroke="#3c3c3c" stroke-width="0.8" />
<line x1="439.10" y1="899.50" x2="648.90" y2="899.50" stroke="#3c3c3c" stroke-width="0.8" />
<line x1="439.10" y1="751.10" x2="439.10" y2="899.50" stroke="#3c3c3c" stroke-width="0.8" />
<line x1="473.70" y1="751.10" x2="473.70" y2="899.50" stroke="#3c3c3c" stroke-width="0.8" />
<line x1="508.90" y1="751.10" x2="508.90" y2="899.50" stroke="#3c3c3c" stroke-width="0.8" />
<line x1="543.50" y1="751.10" x2="543.50" y2="899.50" stroke="#3c3c3c" stroke-width="0.8" />
<line x1="578.80" y1="751.10" x2="578.80" y2="899.50" stroke="#3c3c3c" stroke-width="0.8" />
<line x1="613.70" y1="751.10" x2="613.70" y2="899.50" stroke="#3c3c3c" stroke-width="0.8" />
<line x1="648.90" y1="751.10" x2="648.90" y2="899.50" stroke="#3c3c3c" stroke-width="0.8" />
<text x="456.40" y="769.40" font-size="10.7" text-anchor="middle" fill="#000" stroke="#000">5674</text>
<text x="491.30" y="769.40" font-size="10.7" text-anchor="middle" fill="#000" stroke="#000">6341</text>
<text x="526.20" y="769.40" font-size="10.7" text-anchor="middle" fill="#000" stroke="#000">93</text>
<text x="561.15" y="769.40" font-size="10.7" text-anchor="middle" fill="#000" stroke="#000">96</text>
<text x="596.25" y="769.40" font-size="10.2" text-anchor="middle" fill="#000" stroke="#000">103109</text>
<text x="631.30" y="769.40" font-size="10.2" text-anchor="middle" fill="#000" stroke="#000">129821</text>
<text x="456.40" y="799.10" font-size="10.7" text-anchor="middle" fill="#000" stroke="#000">322</text>
<text x="491.30" y="799.10" font-size="10.7" text-anchor="middle" fill="#000" stroke="#000">5656</text>
<text x="526.20" y="799.10" font-size="10.7" text-anchor="middle" fill="#000" stroke="#000">13</text>
<text x="561.15" y="799.10" font-size="10.7" text-anchor="middle" fill="#000" stroke="#000">94</text>
<text x="596.25" y="799.10" font-size="10.2" text-anchor="middle" fill="#000" stroke="#000">112209</text>
<text x="631.30" y="799.10" font-size="10.2" text-anchor="middle" fill="#000" stroke="#000">157731</text>
<text x="456.40" y="829.00" font-size="10.7" text-anchor="middle" fill="#000" stroke="#000">313</text>
<text x="491.30" y="829.00" font-size="10.7" text-anchor="middle" fill="#000" stroke="#000">4987</text>
<text x="526.20" y="829.00" font-size="10.7" text-anchor="middle" fill="#000" stroke="#000">10</text>
<text x="561.15" y="829.00" font-size="10.7" text-anchor="middle" fill="#000" stroke="#000">92</text>
<text x="596.25" y="829.00" font-size="10.7" text-anchor="middle" fill="#000" stroke="#000">89865</text>
<text x="631.30" y="829.00" font-size="10.2" text-anchor="middle" fill="#000" stroke="#000">208720</text>
<text x="456.40" y="858.75" font-size="10.7" text-anchor="middle" fill="#000" stroke="#000">201</text>
<text x="491.30" y="858.75" font-size="10.7" text-anchor="middle" fill="#000" stroke="#000">3675</text>
<text x="526.20" y="858.75" font-size="10.7" text-anchor="middle" fill="#000" stroke="#000">9</text>
<text x="561.15" y="858.75" font-size="10.7" text-anchor="middle" fill="#000" stroke="#000">89</text>
<text x="596.25" y="858.75" font-size="10.7" text-anchor="middle" fill="#000" stroke="#000">67689</text>
<text x="631.30" y="858.75" font-size="10.2" text-anchor="middle" fill="#000" stroke="#000">297820</text>
<text x="456.40" y="888.45" font-size="10.7" text-anchor="middle" fill="#000" stroke="#000">223</text>
<text x="491.30" y="888.45" font-size="10.7" text-anchor="middle" fill="#000" stroke="#000">2987</text>
<text x="526.20" y="888.45" font-size="10.7" text-anchor="middle" fill="#000" stroke="#000">8</text>
<text x="561.15" y="888.45" font-size="10.7" text-anchor="middle" fill="#000" stroke="#000">86</text>
<text x="596.25" y="888.45" font-size="10.7" text-anchor="middle" fill="#000" stroke="#000">54567</text>
<text x="631.30" y="888.45" font-size="10.2" text-anchor="middle" fill="#000" stroke="#000">278921</text>
<text x="395.80" y="769.60" font-size="12.5" fill="#000" stroke="#000">Day 7</text>
<line x1="434.20" y1="766.10" x2="438.90" y2="766.10" stroke="#777" stroke-width="0.8" />
<text x="395.80" y="798.40" font-size="12.5" fill="#000" stroke="#000">Day 9</text>
<line x1="434.20" y1="795.10" x2="438.90" y2="795.10" stroke="#777" stroke-width="0.8" />
<text x="395.80" y="827.40" font-size="12.5" fill="#000" stroke="#000">Day 11</text>
<line x1="434.20" y1="825.40" x2="438.90" y2="825.40" stroke="#777" stroke-width="0.8" />
<text x="395.80" y="859.40" font-size="12.5" fill="#000" stroke="#000">Day 15</text>
<line x1="434.20" y1="854.40" x2="438.90" y2="854.40" stroke="#777" stroke-width="0.8" />
<text x="395.80" y="887.60" font-size="12.5" fill="#000" stroke="#000">Day 17</text>
<line x1="434.20" y1="884.30" x2="438.90" y2="884.30" stroke="#777" stroke-width="0.8" />
<text x="455.20" y="718.50" font-size="12.5" fill="#000" stroke="#000">IFN-γ</text>
<text x="455.20" y="732.50" font-size="12.5" fill="#000" stroke="#000">(pg/mL)</text>
<text x="541.60" y="718.00" font-size="12.5" text-anchor="middle" fill="#000" stroke="#000">% Tumor Lysis</text>
<text x="540.90" y="733.90" font-size="12.5" text-anchor="middle" fill="#000" stroke="#000">(1:10; T:E)</text>
<text x="620.70" y="718.00" font-size="12.5" text-anchor="middle" fill="#000" stroke="#000">No. of</text>
<text x="622.30" y="733.90" font-size="12.5" text-anchor="middle" fill="#000" stroke="#000">CAR T cell</text>
<path d="M455.10,749.60 Q455.10,742.20 466.94,742.20 L462.56,742.20 Q474.40,742.20 474.40,736.40 Q474.40,742.20 486.24,742.20 L481.86,742.20 Q493.70,742.20 493.70,749.60" stroke="#444" stroke-width="0.9" fill="none" />
<path d="M523.35,749.60 Q523.35,742.20 535.19,742.20 L530.81,742.20 Q542.65,742.20 542.65,736.40 Q542.65,742.20 554.49,742.20 L550.11,742.20 Q561.95,742.20 561.95,749.60" stroke="#444" stroke-width="0.9" fill="none" />
<path d="M593.35,749.60 Q593.35,742.20 605.19,742.20 L600.81,742.20 Q612.65,742.20 612.65,736.40 Q612.65,742.20 624.49,742.20 L620.11,742.20 Q631.95,742.20 631.95,749.60" stroke="#444" stroke-width="0.9" fill="none" />
<line x1="456.40" y1="899.50" x2="456.40" y2="904.00" stroke="#777" stroke-width="0.8" />
<text x="463.60" y="910.80" font-size="12" text-anchor="end" fill="#000" stroke="#000" transform="rotate(-38 463.60 910.80)">m19</text>
<line x1="491.30" y1="899.50" x2="491.30" y2="904.00" stroke="#777" stroke-width="0.8" />
<text x="498.50" y="910.80" font-size="12" text-anchor="end" fill="#000" stroke="#000" transform="rotate(-38 498.50 910.80)">b20/19</text>
<line x1="526.20" y1="899.50" x2="526.20" y2="904.00" stroke="#777" stroke-width="0.8" />
<text x="533.40" y="910.80" font-size="12" text-anchor="end" fill="#000" stroke="#000" transform="rotate(-38 533.40 910.80)">m19</text>
<line x1="561.15" y1="899.50" x2="561.15" y2="904.00" stroke="#777" stroke-width="0.8" />
<text x="568.35" y="910.80" font-size="12" text-anchor="end" fill="#000" stroke="#000" transform="rotate(-38 568.35 910.80)">b20/19</text>
<line x1="596.25" y1="899.50" x2="596.25" y2="904.00" stroke="#777" stroke-width="0.8" />
<text x="603.45" y="910.80" font-size="12" text-anchor="end" fill="#000" stroke="#000" transform="rotate(-38 603.45 910.80)">m19</text>
<line x1="631.30" y1="899.50" x2="631.30" y2="904.00" stroke="#777" stroke-width="0.8" />
<text x="638.50" y="910.80" font-size="12" text-anchor="end" fill="#000" stroke="#000" transform="rotate(-38 638.50 910.80)">b20/19</text>
</svg>
</body></html>
